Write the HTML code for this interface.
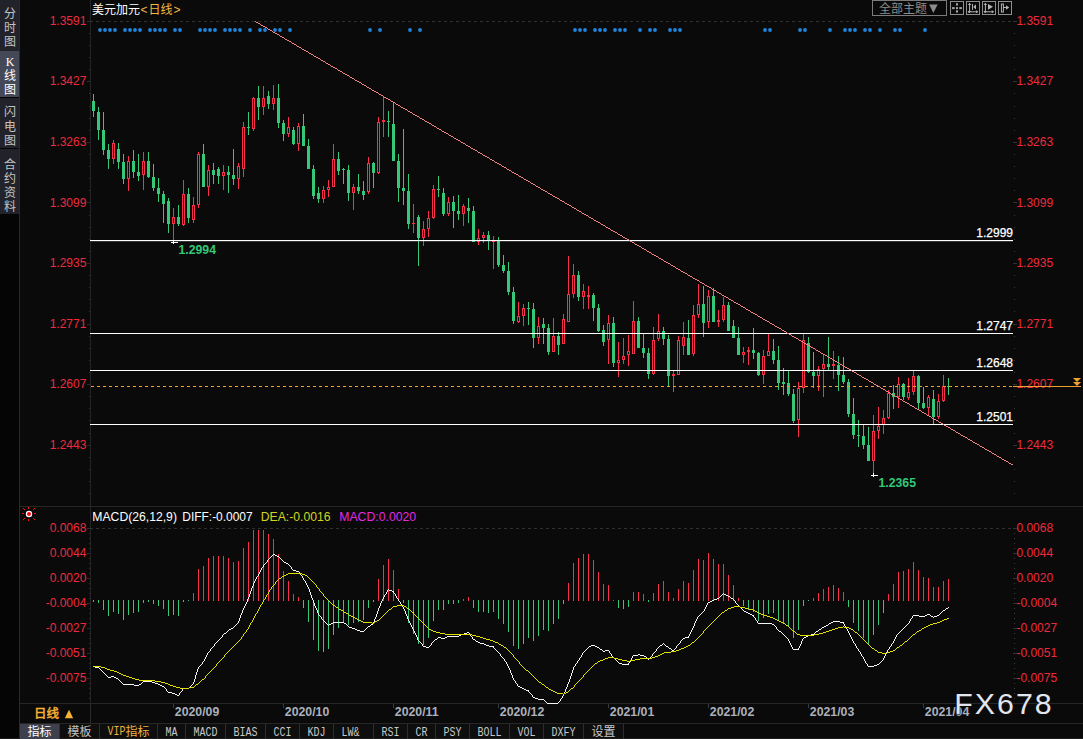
<!DOCTYPE html>
<html><head><meta charset="utf-8"><title>USDCAD</title>
<style>html,body{margin:0;padding:0;background:#0a0a0a;overflow:hidden}body{width:1083px;height:739px;font-family:"Liberation Sans",sans-serif}</style></head>
<body>
<svg width="1083" height="739" viewBox="0 0 1083 739" style="display:block">
<rect width="1083" height="739" fill="#0a0a0a"/>
<g shape-rendering="crispEdges">
<rect x="0" y="0" width="19" height="739" fill="#050505"/>
<rect x="0" y="0" width="19" height="51" fill="#22232a"/>
<rect x="0" y="51" width="19" height="46" fill="#454857"/>
<rect x="0" y="98" width="19" height="50" fill="#22232a"/>
<rect x="0" y="149" width="19" height="65" fill="#22232a"/>
<rect x="19" y="0" width="1" height="739" fill="#2a2a2a"/>
</g>
<text x="4" y="17.5" font-size="12" fill="#c4c4c4" font-family="'Liberation Sans', 'Noto Sans CJK SC', sans-serif">分</text>
<text x="4" y="31.5" font-size="12" fill="#c4c4c4" font-family="'Liberation Sans', 'Noto Sans CJK SC', sans-serif">时</text>
<text x="4" y="45.5" font-size="12" fill="#c4c4c4" font-family="'Liberation Sans', 'Noto Sans CJK SC', sans-serif">图</text>
<text x="10" y="65.8" font-size="12" fill="#fff" text-anchor="middle" font-weight="normal" font-family="'Liberation Serif', sans-serif" >K</text>
<text x="4" y="80" font-size="12" fill="#fff" font-family="'Liberation Sans', 'Noto Sans CJK SC', sans-serif">线</text>
<text x="4" y="94.2" font-size="12" fill="#fff" font-family="'Liberation Sans', 'Noto Sans CJK SC', sans-serif">图</text>
<text x="4" y="116.3" font-size="12" fill="#c4c4c4" font-family="'Liberation Sans', 'Noto Sans CJK SC', sans-serif">闪</text>
<text x="4" y="130.7" font-size="12" fill="#c4c4c4" font-family="'Liberation Sans', 'Noto Sans CJK SC', sans-serif">电</text>
<text x="4" y="144.8" font-size="12" fill="#c4c4c4" font-family="'Liberation Sans', 'Noto Sans CJK SC', sans-serif">图</text>
<text x="4" y="168.5" font-size="12" fill="#c4c4c4" font-family="'Liberation Sans', 'Noto Sans CJK SC', sans-serif">合</text>
<text x="4" y="182.5" font-size="12" fill="#c4c4c4" font-family="'Liberation Sans', 'Noto Sans CJK SC', sans-serif">约</text>
<text x="4" y="196.5" font-size="12" fill="#c4c4c4" font-family="'Liberation Sans', 'Noto Sans CJK SC', sans-serif">资</text>
<text x="4" y="210.5" font-size="12" fill="#c4c4c4" font-family="'Liberation Sans', 'Noto Sans CJK SC', sans-serif">料</text>
<g shape-rendering="crispEdges" fill="#262626">
<rect x="90" y="0" width="1" height="723" fill="#242424"/>
<rect x="20" y="506" width="1063" height="1"/>
<rect x="20" y="703" width="1063" height="1"/>
<rect x="20" y="723" width="1063" height="1"/>
<rect x="0" y="738" width="1083" height="1" fill="#1c1c1c"/>
</g>
<g shape-rendering="crispEdges" fill="#3a3a3a">
<rect x="87" y="21" width="3" height="1" fill="#2c2c2c"/>
<rect x="1013" y="21" width="4" height="1" fill="#323232"/>
<rect x="89" y="33" width="1" height="1" fill="#303030"/>
<rect x="1014" y="33" width="1" height="1"/>
<rect x="89" y="45" width="1" height="1" fill="#303030"/>
<rect x="1014" y="45" width="1" height="1"/>
<rect x="89" y="57" width="1" height="1" fill="#303030"/>
<rect x="1014" y="57" width="1" height="1"/>
<rect x="89" y="69" width="1" height="1" fill="#303030"/>
<rect x="1014" y="69" width="1" height="1"/>
<rect x="87" y="81" width="3" height="1" fill="#2c2c2c"/>
<rect x="1013" y="81" width="4" height="1" fill="#323232"/>
<rect x="89" y="93" width="1" height="1" fill="#303030"/>
<rect x="1014" y="93" width="1" height="1"/>
<rect x="89" y="106" width="1" height="1" fill="#303030"/>
<rect x="1014" y="106" width="1" height="1"/>
<rect x="89" y="118" width="1" height="1" fill="#303030"/>
<rect x="1014" y="118" width="1" height="1"/>
<rect x="89" y="130" width="1" height="1" fill="#303030"/>
<rect x="1014" y="130" width="1" height="1"/>
<rect x="87" y="142" width="3" height="1" fill="#2c2c2c"/>
<rect x="1013" y="142" width="4" height="1" fill="#323232"/>
<rect x="89" y="154" width="1" height="1" fill="#303030"/>
<rect x="1014" y="154" width="1" height="1"/>
<rect x="89" y="166" width="1" height="1" fill="#303030"/>
<rect x="1014" y="166" width="1" height="1"/>
<rect x="89" y="178" width="1" height="1" fill="#303030"/>
<rect x="1014" y="178" width="1" height="1"/>
<rect x="89" y="190" width="1" height="1" fill="#303030"/>
<rect x="1014" y="190" width="1" height="1"/>
<rect x="87" y="202" width="3" height="1" fill="#2c2c2c"/>
<rect x="1013" y="202" width="4" height="1" fill="#323232"/>
<rect x="89" y="215" width="1" height="1" fill="#303030"/>
<rect x="1014" y="215" width="1" height="1"/>
<rect x="89" y="227" width="1" height="1" fill="#303030"/>
<rect x="1014" y="227" width="1" height="1"/>
<rect x="89" y="239" width="1" height="1" fill="#303030"/>
<rect x="1014" y="239" width="1" height="1"/>
<rect x="89" y="251" width="1" height="1" fill="#303030"/>
<rect x="1014" y="251" width="1" height="1"/>
<rect x="87" y="263" width="3" height="1" fill="#2c2c2c"/>
<rect x="1013" y="263" width="4" height="1" fill="#323232"/>
<rect x="89" y="275" width="1" height="1" fill="#303030"/>
<rect x="1014" y="275" width="1" height="1"/>
<rect x="89" y="287" width="1" height="1" fill="#303030"/>
<rect x="1014" y="287" width="1" height="1"/>
<rect x="89" y="299" width="1" height="1" fill="#303030"/>
<rect x="1014" y="299" width="1" height="1"/>
<rect x="89" y="311" width="1" height="1" fill="#303030"/>
<rect x="1014" y="311" width="1" height="1"/>
<rect x="87" y="324" width="3" height="1" fill="#2c2c2c"/>
<rect x="1013" y="324" width="4" height="1" fill="#323232"/>
<rect x="89" y="336" width="1" height="1" fill="#303030"/>
<rect x="1014" y="336" width="1" height="1"/>
<rect x="89" y="348" width="1" height="1" fill="#303030"/>
<rect x="1014" y="348" width="1" height="1"/>
<rect x="89" y="360" width="1" height="1" fill="#303030"/>
<rect x="1014" y="360" width="1" height="1"/>
<rect x="89" y="372" width="1" height="1" fill="#303030"/>
<rect x="1014" y="372" width="1" height="1"/>
<rect x="87" y="384" width="3" height="1" fill="#2c2c2c"/>
<rect x="1013" y="384" width="4" height="1" fill="#323232"/>
<rect x="89" y="396" width="1" height="1" fill="#303030"/>
<rect x="1014" y="396" width="1" height="1"/>
<rect x="89" y="408" width="1" height="1" fill="#303030"/>
<rect x="1014" y="408" width="1" height="1"/>
<rect x="89" y="420" width="1" height="1" fill="#303030"/>
<rect x="1014" y="420" width="1" height="1"/>
<rect x="89" y="433" width="1" height="1" fill="#303030"/>
<rect x="1014" y="433" width="1" height="1"/>
<rect x="87" y="445" width="3" height="1" fill="#2c2c2c"/>
<rect x="1013" y="445" width="4" height="1" fill="#323232"/>
<rect x="89" y="457" width="1" height="1" fill="#303030"/>
<rect x="1014" y="457" width="1" height="1"/>
<rect x="89" y="469" width="1" height="1" fill="#303030"/>
<rect x="1014" y="469" width="1" height="1"/>
<rect x="89" y="481" width="1" height="1" fill="#303030"/>
<rect x="1014" y="481" width="1" height="1"/>
<rect x="89" y="493" width="1" height="1" fill="#303030"/>
<rect x="1014" y="493" width="1" height="1"/>
</g>
<text x="86.4" y="24.9" font-size="12" fill="#ee2a3c" text-anchor="end" font-weight="normal" font-family="'Liberation Sans', sans-serif" >1.3591</text>
<text x="1016.4" y="24.9" font-size="12" fill="#ee2a3c" text-anchor="start" font-weight="normal" font-family="'Liberation Sans', sans-serif" >1.3591</text>
<text x="86.4" y="85.4" font-size="12" fill="#ee2a3c" text-anchor="end" font-weight="normal" font-family="'Liberation Sans', sans-serif" >1.3427</text>
<text x="1016.4" y="85.4" font-size="12" fill="#ee2a3c" text-anchor="start" font-weight="normal" font-family="'Liberation Sans', sans-serif" >1.3427</text>
<text x="86.4" y="146.0" font-size="12" fill="#ee2a3c" text-anchor="end" font-weight="normal" font-family="'Liberation Sans', sans-serif" >1.3263</text>
<text x="1016.4" y="146.0" font-size="12" fill="#ee2a3c" text-anchor="start" font-weight="normal" font-family="'Liberation Sans', sans-serif" >1.3263</text>
<text x="86.4" y="206.5" font-size="12" fill="#ee2a3c" text-anchor="end" font-weight="normal" font-family="'Liberation Sans', sans-serif" >1.3099</text>
<text x="1016.4" y="206.5" font-size="12" fill="#ee2a3c" text-anchor="start" font-weight="normal" font-family="'Liberation Sans', sans-serif" >1.3099</text>
<text x="86.4" y="267.1" font-size="12" fill="#ee2a3c" text-anchor="end" font-weight="normal" font-family="'Liberation Sans', sans-serif" >1.2935</text>
<text x="1016.4" y="267.1" font-size="12" fill="#ee2a3c" text-anchor="start" font-weight="normal" font-family="'Liberation Sans', sans-serif" >1.2935</text>
<text x="86.4" y="327.7" font-size="12" fill="#ee2a3c" text-anchor="end" font-weight="normal" font-family="'Liberation Sans', sans-serif" >1.2771</text>
<text x="1016.4" y="327.7" font-size="12" fill="#ee2a3c" text-anchor="start" font-weight="normal" font-family="'Liberation Sans', sans-serif" >1.2771</text>
<text x="86.4" y="388.2" font-size="12" fill="#ee2a3c" text-anchor="end" font-weight="normal" font-family="'Liberation Sans', sans-serif" >1.2607</text>
<text x="1016.4" y="388.2" font-size="12" fill="#ee2a3c" text-anchor="start" font-weight="normal" font-family="'Liberation Sans', sans-serif" >1.2607</text>
<text x="86.4" y="448.8" font-size="12" fill="#ee2a3c" text-anchor="end" font-weight="normal" font-family="'Liberation Sans', sans-serif" >1.2443</text>
<text x="1016.4" y="448.8" font-size="12" fill="#ee2a3c" text-anchor="start" font-weight="normal" font-family="'Liberation Sans', sans-serif" >1.2443</text>
<path d="M90 21.5H1013" stroke="#303030" stroke-width="1" stroke-dasharray="3 3" shape-rendering="crispEdges"/>
<text x="92" y="14" font-size="12" fill="#ffffff" text-anchor="start" font-family="'Liberation Sans', 'Noto Sans CJK SC', sans-serif">美元加元</text>
<text x="140.5" y="14" font-size="12" fill="#f4b840" text-anchor="start" font-weight="normal" font-family="'Liberation Sans', sans-serif" >&lt;</text>
<text x="148.5" y="14" font-size="12" fill="#f4b840" text-anchor="start" font-family="'Liberation Sans', 'Noto Sans CJK SC', sans-serif">日线</text>
<text x="173.5" y="14" font-size="12" fill="#f4b840" text-anchor="start" font-weight="normal" font-family="'Liberation Sans', sans-serif" >&gt;</text>
<g shape-rendering="crispEdges" fill="none">
<rect x="872.5" y="0.5" width="74" height="15" stroke="#7c7c7c"/>
<rect x="950.5" y="1.5" width="13" height="13" stroke="#8e8e8e"/>
<rect x="966.5" y="1.5" width="13" height="13" stroke="#8e8e8e"/>
<rect x="982.5" y="1.5" width="13" height="13" stroke="#8e8e8e"/>
<rect x="998.5" y="1.5" width="13" height="13" stroke="#8e8e8e"/>
</g>
<text x="879" y="12.7" font-size="12" fill="#8c8c8c" text-anchor="start" font-family="'Liberation Sans', 'Noto Sans CJK SC', sans-serif">全部主题</text>
<path d="M929.2 4.5h8.4l-4.2 8.4z" fill="#8c8c8c"/>
<g fill="#a4a4a4">
<rect x="956" y="3.2" width="2" height="2.3"/>
<rect x="956" y="7.1" width="2" height="2"/>
<rect x="956" y="10.3" width="2" height="2.3"/>
<rect x="952.1" y="7.1" width="2.6" height="2"/>
<rect x="959.3" y="7.1" width="2.6" height="2"/>
</g>
<g stroke="#b4b4b4" stroke-width="1" fill="#b4b4b4">
<path d="M969.6 3.6v8.4M968.4 11.8H977.6" fill="none"/>
<path d="M969.6 2.8l-1.7 2.3h3.4z M969.6 12.9l-1.5-1.9h3z M978.3 11.8l-2.3-1.5v3z M967.6 11.8l1.9-1.4v2.8z" stroke="none"/>
<path d="M972.5 4v5.8" fill="none"/><path d="M976 4.2v5.4l-2.7-2.7z" stroke="none"/>
</g>
<g stroke="#b4b4b4" stroke-width="1" fill="#b4b4b4">
<path d="M985.4 3.6v8.4M984.3 11.8H993.4" fill="none"/>
<path d="M985.4 2.8l-1.7 2.3h3.4z M985.4 12.9l-1.5-1.9h3z M994.1 11.8l-2.3-1.5v3z M983.5 11.8l1.9-1.4v2.8z" stroke="none"/>
<path d="M988 3.9v5.8l5-2.9z" stroke="none"/>
</g>
<g stroke="#b4b4b4" stroke-width="1" fill="none">
<rect x="1001.4" y="4" width="2" height="8"/><path d="M1003 7.5h4"/><path d="M1009.2 7.5l-3.2-2.2v4.4z" fill="#b4b4b4" stroke="none"/>
</g>
<g fill="#1f86e0">
<circle cx="100" cy="30" r="1.9"/>
<circle cx="105" cy="30" r="1.9"/>
<circle cx="110" cy="30" r="1.9"/>
<circle cx="115" cy="30" r="1.9"/>
<circle cx="125" cy="30" r="1.9"/>
<circle cx="130" cy="30" r="1.9"/>
<circle cx="135" cy="30" r="1.9"/>
<circle cx="140" cy="30" r="1.9"/>
<circle cx="150" cy="30" r="1.9"/>
<circle cx="155" cy="30" r="1.9"/>
<circle cx="160" cy="30" r="1.9"/>
<circle cx="165" cy="30" r="1.9"/>
<circle cx="175" cy="30" r="1.9"/>
<circle cx="180" cy="30" r="1.9"/>
<circle cx="200" cy="30" r="1.9"/>
<circle cx="205" cy="30" r="1.9"/>
<circle cx="210" cy="30" r="1.9"/>
<circle cx="215" cy="30" r="1.9"/>
<circle cx="225" cy="30" r="1.9"/>
<circle cx="230" cy="30" r="1.9"/>
<circle cx="235" cy="30" r="1.9"/>
<circle cx="240" cy="30" r="1.9"/>
<circle cx="250" cy="30" r="1.9"/>
<circle cx="260" cy="30" r="1.9"/>
<circle cx="265" cy="30" r="1.9"/>
<circle cx="275" cy="30" r="1.9"/>
<circle cx="280" cy="30" r="1.9"/>
<circle cx="290" cy="30" r="1.9"/>
<circle cx="370" cy="30" r="1.9"/>
<circle cx="380" cy="30" r="1.9"/>
<circle cx="410" cy="30" r="1.9"/>
<circle cx="420" cy="30" r="1.9"/>
<circle cx="575" cy="30" r="1.9"/>
<circle cx="580" cy="30" r="1.9"/>
<circle cx="585" cy="30" r="1.9"/>
<circle cx="595" cy="30" r="1.9"/>
<circle cx="600" cy="30" r="1.9"/>
<circle cx="605" cy="30" r="1.9"/>
<circle cx="615" cy="30" r="1.9"/>
<circle cx="620" cy="30" r="1.9"/>
<circle cx="625" cy="30" r="1.9"/>
<circle cx="640" cy="30" r="1.9"/>
<circle cx="650" cy="30" r="1.9"/>
<circle cx="655" cy="30" r="1.9"/>
<circle cx="670" cy="30" r="1.9"/>
<circle cx="675" cy="30" r="1.9"/>
<circle cx="680" cy="30" r="1.9"/>
<circle cx="765" cy="30" r="1.9"/>
<circle cx="770" cy="30" r="1.9"/>
<circle cx="800" cy="30" r="1.9"/>
<circle cx="805" cy="30" r="1.9"/>
<circle cx="830" cy="30" r="1.9"/>
<circle cx="845" cy="30" r="1.9"/>
<circle cx="850" cy="30" r="1.9"/>
<circle cx="855" cy="30" r="1.9"/>
<circle cx="865" cy="30" r="1.9"/>
<circle cx="870" cy="30" r="1.9"/>
<circle cx="880" cy="30" r="1.9"/>
<circle cx="895" cy="30" r="1.9"/>
<circle cx="900" cy="30" r="1.9"/>
<circle cx="925" cy="30" r="1.9"/>
</g>
<g shape-rendering="crispEdges">
<rect x="93" y="94" width="1" height="23" fill="#36c878"/>
<rect x="92" y="101" width="3" height="10" fill="#36c878"/>
<rect x="98" y="107" width="1" height="33" fill="#36c878"/>
<rect x="97" y="112" width="3" height="18" fill="#36c878"/>
<rect x="103" y="112" width="1" height="43" fill="#36c878"/>
<rect x="102" y="130" width="3" height="20" fill="#36c878"/>
<rect x="108" y="144" width="1" height="25" fill="#36c878"/>
<rect x="107" y="150" width="3" height="9" fill="#36c878"/>
<rect x="113" y="140" width="1" height="3" fill="#f8304c"/>
<rect x="113" y="159" width="1" height="5" fill="#f8304c"/>
<rect x="112" y="143" width="3" height="16" fill="#f8304c"/>
<rect x="113" y="144" width="1" height="14" fill="#0a0a0a"/>
<rect x="118" y="143" width="1" height="26" fill="#36c878"/>
<rect x="117" y="149" width="3" height="13" fill="#36c878"/>
<rect x="123" y="154" width="1" height="30" fill="#36c878"/>
<rect x="122" y="162" width="3" height="17" fill="#36c878"/>
<rect x="128" y="156" width="1" height="5" fill="#f8304c"/>
<rect x="128" y="179" width="1" height="12" fill="#f8304c"/>
<rect x="127" y="161" width="3" height="18" fill="#f8304c"/>
<rect x="128" y="162" width="1" height="16" fill="#0a0a0a"/>
<rect x="133" y="150" width="1" height="28" fill="#36c878"/>
<rect x="132" y="161" width="3" height="11" fill="#36c878"/>
<rect x="138" y="154" width="1" height="27" fill="#36c878"/>
<rect x="137" y="172" width="3" height="4" fill="#36c878"/>
<rect x="143" y="152" width="1" height="9" fill="#f8304c"/>
<rect x="143" y="175" width="1" height="15" fill="#f8304c"/>
<rect x="142" y="161" width="3" height="14" fill="#f8304c"/>
<rect x="143" y="162" width="1" height="12" fill="#0a0a0a"/>
<rect x="148" y="152" width="1" height="26" fill="#36c878"/>
<rect x="147" y="161" width="3" height="16" fill="#36c878"/>
<rect x="153" y="164" width="1" height="27" fill="#36c878"/>
<rect x="152" y="177" width="3" height="11" fill="#36c878"/>
<rect x="158" y="178" width="1" height="24" fill="#36c878"/>
<rect x="157" y="188" width="3" height="6" fill="#36c878"/>
<rect x="163" y="191" width="1" height="32" fill="#36c878"/>
<rect x="162" y="194" width="3" height="10" fill="#36c878"/>
<rect x="168" y="198" width="1" height="35" fill="#36c878"/>
<rect x="167" y="201" width="3" height="23" fill="#36c878"/>
<rect x="173" y="208" width="1" height="9" fill="#f8304c"/>
<rect x="173" y="224" width="1" height="17" fill="#f8304c"/>
<rect x="172" y="217" width="3" height="7" fill="#f8304c"/>
<rect x="173" y="218" width="1" height="5" fill="#0a0a0a"/>
<rect x="178" y="205" width="1" height="21" fill="#36c878"/>
<rect x="177" y="217" width="3" height="7" fill="#36c878"/>
<rect x="183" y="180" width="1" height="14" fill="#f8304c"/>
<rect x="183" y="225" width="1" height="1" fill="#f8304c"/>
<rect x="182" y="194" width="3" height="31" fill="#f8304c"/>
<rect x="183" y="195" width="1" height="29" fill="#0a0a0a"/>
<rect x="188" y="188" width="1" height="35" fill="#36c878"/>
<rect x="187" y="194" width="3" height="24" fill="#36c878"/>
<rect x="193" y="197" width="1" height="8" fill="#f8304c"/>
<rect x="193" y="220" width="1" height="3" fill="#f8304c"/>
<rect x="192" y="205" width="3" height="15" fill="#f8304c"/>
<rect x="193" y="206" width="1" height="13" fill="#0a0a0a"/>
<rect x="198" y="152" width="1" height="2" fill="#f8304c"/>
<rect x="198" y="205" width="1" height="3" fill="#f8304c"/>
<rect x="197" y="154" width="3" height="51" fill="#f8304c"/>
<rect x="198" y="155" width="1" height="49" fill="#0a0a0a"/>
<rect x="203" y="144" width="1" height="43" fill="#36c878"/>
<rect x="202" y="154" width="3" height="33" fill="#36c878"/>
<rect x="208" y="165" width="1" height="5" fill="#f8304c"/>
<rect x="208" y="187" width="1" height="9" fill="#f8304c"/>
<rect x="207" y="170" width="3" height="17" fill="#f8304c"/>
<rect x="208" y="171" width="1" height="15" fill="#0a0a0a"/>
<rect x="213" y="163" width="1" height="21" fill="#36c878"/>
<rect x="212" y="170" width="3" height="5" fill="#36c878"/>
<rect x="218" y="167" width="1" height="17" fill="#36c878"/>
<rect x="217" y="169" width="3" height="7" fill="#36c878"/>
<rect x="223" y="165" width="1" height="7" fill="#f8304c"/>
<rect x="223" y="176" width="1" height="14" fill="#f8304c"/>
<rect x="222" y="172" width="3" height="4" fill="#f8304c"/>
<rect x="223" y="173" width="1" height="2" fill="#0a0a0a"/>
<rect x="228" y="166" width="1" height="27" fill="#36c878"/>
<rect x="227" y="172" width="3" height="3" fill="#36c878"/>
<rect x="233" y="149" width="1" height="36" fill="#36c878"/>
<rect x="232" y="175" width="3" height="4" fill="#36c878"/>
<rect x="238" y="163" width="1" height="3" fill="#f8304c"/>
<rect x="238" y="179" width="1" height="10" fill="#f8304c"/>
<rect x="237" y="166" width="3" height="13" fill="#f8304c"/>
<rect x="238" y="167" width="1" height="11" fill="#0a0a0a"/>
<rect x="243" y="122" width="1" height="5" fill="#f8304c"/>
<rect x="243" y="169" width="1" height="8" fill="#f8304c"/>
<rect x="242" y="127" width="3" height="42" fill="#f8304c"/>
<rect x="243" y="128" width="1" height="40" fill="#0a0a0a"/>
<rect x="248" y="112" width="1" height="23" fill="#36c878"/>
<rect x="247" y="127" width="3" height="1" fill="#36c878"/>
<rect x="253" y="97" width="1" height="1" fill="#f8304c"/>
<rect x="253" y="129" width="1" height="2" fill="#f8304c"/>
<rect x="252" y="98" width="3" height="31" fill="#f8304c"/>
<rect x="253" y="99" width="1" height="29" fill="#0a0a0a"/>
<rect x="258" y="86" width="1" height="34" fill="#36c878"/>
<rect x="257" y="98" width="3" height="9" fill="#36c878"/>
<rect x="263" y="86" width="1" height="12" fill="#f8304c"/>
<rect x="263" y="107" width="1" height="8" fill="#f8304c"/>
<rect x="262" y="98" width="3" height="9" fill="#f8304c"/>
<rect x="263" y="99" width="1" height="7" fill="#0a0a0a"/>
<rect x="268" y="91" width="1" height="18" fill="#36c878"/>
<rect x="267" y="96" width="3" height="8" fill="#36c878"/>
<rect x="273" y="85" width="1" height="13" fill="#f8304c"/>
<rect x="273" y="104" width="1" height="6" fill="#f8304c"/>
<rect x="272" y="98" width="3" height="6" fill="#f8304c"/>
<rect x="273" y="99" width="1" height="4" fill="#0a0a0a"/>
<rect x="278" y="84" width="1" height="44" fill="#36c878"/>
<rect x="277" y="98" width="3" height="25" fill="#36c878"/>
<rect x="283" y="120" width="1" height="21" fill="#36c878"/>
<rect x="282" y="123" width="3" height="11" fill="#36c878"/>
<rect x="288" y="117" width="1" height="10" fill="#f8304c"/>
<rect x="288" y="134" width="1" height="3" fill="#f8304c"/>
<rect x="287" y="127" width="3" height="7" fill="#f8304c"/>
<rect x="288" y="128" width="1" height="5" fill="#0a0a0a"/>
<rect x="293" y="127" width="1" height="18" fill="#36c878"/>
<rect x="292" y="130" width="3" height="14" fill="#36c878"/>
<rect x="298" y="123" width="1" height="3" fill="#f8304c"/>
<rect x="298" y="144" width="1" height="7" fill="#f8304c"/>
<rect x="297" y="126" width="3" height="18" fill="#f8304c"/>
<rect x="298" y="127" width="1" height="16" fill="#0a0a0a"/>
<rect x="303" y="114" width="1" height="32" fill="#36c878"/>
<rect x="302" y="126" width="3" height="20" fill="#36c878"/>
<rect x="308" y="139" width="1" height="30" fill="#36c878"/>
<rect x="307" y="146" width="3" height="23" fill="#36c878"/>
<rect x="313" y="165" width="1" height="34" fill="#36c878"/>
<rect x="312" y="169" width="3" height="27" fill="#36c878"/>
<rect x="318" y="187" width="1" height="16" fill="#36c878"/>
<rect x="317" y="193" width="3" height="6" fill="#36c878"/>
<rect x="323" y="186" width="1" height="4" fill="#f8304c"/>
<rect x="323" y="199" width="1" height="4" fill="#f8304c"/>
<rect x="322" y="190" width="3" height="9" fill="#f8304c"/>
<rect x="323" y="191" width="1" height="7" fill="#0a0a0a"/>
<rect x="328" y="180" width="1" height="7" fill="#f8304c"/>
<rect x="328" y="190" width="1" height="7" fill="#f8304c"/>
<rect x="327" y="187" width="3" height="3" fill="#f8304c"/>
<rect x="328" y="188" width="1" height="1" fill="#0a0a0a"/>
<rect x="333" y="144" width="1" height="15" fill="#f8304c"/>
<rect x="332" y="159" width="3" height="28" fill="#f8304c"/>
<rect x="333" y="160" width="1" height="26" fill="#0a0a0a"/>
<rect x="338" y="152" width="1" height="23" fill="#36c878"/>
<rect x="337" y="159" width="3" height="12" fill="#36c878"/>
<rect x="343" y="168" width="1" height="16" fill="#36c878"/>
<rect x="342" y="169" width="3" height="1" fill="#36c878"/>
<rect x="348" y="165" width="1" height="36" fill="#36c878"/>
<rect x="347" y="170" width="3" height="23" fill="#36c878"/>
<rect x="353" y="184" width="1" height="3" fill="#f8304c"/>
<rect x="353" y="193" width="1" height="17" fill="#f8304c"/>
<rect x="352" y="187" width="3" height="6" fill="#f8304c"/>
<rect x="353" y="188" width="1" height="4" fill="#0a0a0a"/>
<rect x="358" y="174" width="1" height="20" fill="#36c878"/>
<rect x="357" y="187" width="3" height="4" fill="#36c878"/>
<rect x="363" y="181" width="1" height="19" fill="#36c878"/>
<rect x="362" y="191" width="3" height="4" fill="#36c878"/>
<rect x="368" y="157" width="1" height="6" fill="#f8304c"/>
<rect x="368" y="192" width="1" height="2" fill="#f8304c"/>
<rect x="367" y="163" width="3" height="29" fill="#f8304c"/>
<rect x="368" y="164" width="1" height="27" fill="#0a0a0a"/>
<rect x="373" y="162" width="1" height="26" fill="#36c878"/>
<rect x="372" y="163" width="3" height="10" fill="#36c878"/>
<rect x="378" y="117" width="1" height="5" fill="#f8304c"/>
<rect x="378" y="173" width="1" height="1" fill="#f8304c"/>
<rect x="377" y="122" width="3" height="51" fill="#f8304c"/>
<rect x="378" y="123" width="1" height="49" fill="#0a0a0a"/>
<rect x="383" y="96" width="1" height="24" fill="#f8304c"/>
<rect x="383" y="122" width="1" height="15" fill="#f8304c"/>
<rect x="382" y="120" width="3" height="2" fill="#f8304c"/>
<rect x="388" y="111" width="1" height="26" fill="#36c878"/>
<rect x="387" y="121" width="3" height="1" fill="#36c878"/>
<rect x="393" y="103" width="1" height="58" fill="#36c878"/>
<rect x="392" y="124" width="3" height="37" fill="#36c878"/>
<rect x="398" y="154" width="1" height="48" fill="#36c878"/>
<rect x="397" y="161" width="3" height="27" fill="#36c878"/>
<rect x="403" y="129" width="1" height="76" fill="#36c878"/>
<rect x="402" y="188" width="3" height="3" fill="#36c878"/>
<rect x="408" y="174" width="1" height="55" fill="#36c878"/>
<rect x="407" y="191" width="3" height="33" fill="#36c878"/>
<rect x="413" y="204" width="1" height="19" fill="#f8304c"/>
<rect x="413" y="224" width="1" height="9" fill="#f8304c"/>
<rect x="412" y="223" width="3" height="1" fill="#f8304c"/>
<rect x="418" y="215" width="1" height="51" fill="#36c878"/>
<rect x="417" y="217" width="3" height="21" fill="#36c878"/>
<rect x="423" y="221" width="1" height="8" fill="#f8304c"/>
<rect x="423" y="238" width="1" height="8" fill="#f8304c"/>
<rect x="422" y="229" width="3" height="9" fill="#f8304c"/>
<rect x="423" y="230" width="1" height="7" fill="#0a0a0a"/>
<rect x="428" y="211" width="1" height="7" fill="#f8304c"/>
<rect x="428" y="229" width="1" height="8" fill="#f8304c"/>
<rect x="427" y="218" width="3" height="11" fill="#f8304c"/>
<rect x="428" y="219" width="1" height="9" fill="#0a0a0a"/>
<rect x="433" y="185" width="1" height="4" fill="#f8304c"/>
<rect x="433" y="218" width="1" height="1" fill="#f8304c"/>
<rect x="432" y="189" width="3" height="29" fill="#f8304c"/>
<rect x="433" y="190" width="1" height="27" fill="#0a0a0a"/>
<rect x="438" y="176" width="1" height="21" fill="#36c878"/>
<rect x="437" y="189" width="3" height="1" fill="#36c878"/>
<rect x="443" y="188" width="1" height="28" fill="#36c878"/>
<rect x="442" y="193" width="3" height="21" fill="#36c878"/>
<rect x="448" y="197" width="1" height="5" fill="#f8304c"/>
<rect x="448" y="214" width="1" height="2" fill="#f8304c"/>
<rect x="447" y="202" width="3" height="12" fill="#f8304c"/>
<rect x="448" y="203" width="1" height="10" fill="#0a0a0a"/>
<rect x="453" y="196" width="1" height="32" fill="#36c878"/>
<rect x="452" y="202" width="3" height="9" fill="#36c878"/>
<rect x="458" y="195" width="1" height="25" fill="#36c878"/>
<rect x="457" y="211" width="3" height="3" fill="#36c878"/>
<rect x="463" y="204" width="1" height="2" fill="#f8304c"/>
<rect x="463" y="214" width="1" height="12" fill="#f8304c"/>
<rect x="462" y="206" width="3" height="8" fill="#f8304c"/>
<rect x="463" y="207" width="1" height="6" fill="#0a0a0a"/>
<rect x="468" y="198" width="1" height="25" fill="#36c878"/>
<rect x="467" y="208" width="3" height="3" fill="#36c878"/>
<rect x="473" y="206" width="1" height="36" fill="#36c878"/>
<rect x="472" y="211" width="3" height="31" fill="#36c878"/>
<rect x="478" y="229" width="1" height="9" fill="#f8304c"/>
<rect x="478" y="242" width="1" height="3" fill="#f8304c"/>
<rect x="477" y="238" width="3" height="4" fill="#f8304c"/>
<rect x="478" y="239" width="1" height="2" fill="#0a0a0a"/>
<rect x="483" y="232" width="1" height="3" fill="#f8304c"/>
<rect x="483" y="238" width="1" height="5" fill="#f8304c"/>
<rect x="482" y="235" width="3" height="3" fill="#f8304c"/>
<rect x="483" y="236" width="1" height="1" fill="#0a0a0a"/>
<rect x="488" y="231" width="1" height="19" fill="#36c878"/>
<rect x="487" y="235" width="3" height="5" fill="#36c878"/>
<rect x="493" y="236" width="1" height="4" fill="#f8304c"/>
<rect x="493" y="242" width="1" height="27" fill="#f8304c"/>
<rect x="492" y="240" width="3" height="2" fill="#f8304c"/>
<rect x="498" y="237" width="1" height="30" fill="#36c878"/>
<rect x="497" y="240" width="3" height="25" fill="#36c878"/>
<rect x="503" y="255" width="1" height="18" fill="#36c878"/>
<rect x="502" y="265" width="3" height="6" fill="#36c878"/>
<rect x="508" y="262" width="1" height="33" fill="#36c878"/>
<rect x="507" y="271" width="3" height="21" fill="#36c878"/>
<rect x="513" y="287" width="1" height="37" fill="#36c878"/>
<rect x="512" y="292" width="3" height="29" fill="#36c878"/>
<rect x="518" y="302" width="1" height="14" fill="#f8304c"/>
<rect x="518" y="322" width="1" height="1" fill="#f8304c"/>
<rect x="517" y="316" width="3" height="6" fill="#f8304c"/>
<rect x="518" y="317" width="1" height="4" fill="#0a0a0a"/>
<rect x="523" y="304" width="1" height="4" fill="#f8304c"/>
<rect x="523" y="316" width="1" height="10" fill="#f8304c"/>
<rect x="522" y="308" width="3" height="8" fill="#f8304c"/>
<rect x="523" y="309" width="1" height="6" fill="#0a0a0a"/>
<rect x="528" y="302" width="1" height="23" fill="#36c878"/>
<rect x="527" y="308" width="3" height="1" fill="#36c878"/>
<rect x="533" y="303" width="1" height="45" fill="#36c878"/>
<rect x="532" y="309" width="3" height="29" fill="#36c878"/>
<rect x="538" y="317" width="1" height="9" fill="#f8304c"/>
<rect x="538" y="338" width="1" height="6" fill="#f8304c"/>
<rect x="537" y="326" width="3" height="12" fill="#f8304c"/>
<rect x="538" y="327" width="1" height="10" fill="#0a0a0a"/>
<rect x="543" y="318" width="1" height="26" fill="#36c878"/>
<rect x="542" y="324" width="3" height="4" fill="#36c878"/>
<rect x="548" y="324" width="1" height="31" fill="#36c878"/>
<rect x="547" y="328" width="3" height="24" fill="#36c878"/>
<rect x="553" y="318" width="1" height="18" fill="#f8304c"/>
<rect x="552" y="336" width="3" height="16" fill="#f8304c"/>
<rect x="553" y="337" width="1" height="14" fill="#0a0a0a"/>
<rect x="558" y="332" width="1" height="23" fill="#36c878"/>
<rect x="557" y="336" width="3" height="9" fill="#36c878"/>
<rect x="563" y="314" width="1" height="5" fill="#f8304c"/>
<rect x="562" y="319" width="3" height="25" fill="#f8304c"/>
<rect x="563" y="320" width="1" height="23" fill="#0a0a0a"/>
<rect x="568" y="256" width="1" height="38" fill="#f8304c"/>
<rect x="567" y="294" width="3" height="28" fill="#f8304c"/>
<rect x="568" y="295" width="1" height="26" fill="#0a0a0a"/>
<rect x="573" y="264" width="1" height="11" fill="#f8304c"/>
<rect x="573" y="294" width="1" height="4" fill="#f8304c"/>
<rect x="572" y="275" width="3" height="19" fill="#f8304c"/>
<rect x="573" y="276" width="1" height="17" fill="#0a0a0a"/>
<rect x="578" y="271" width="1" height="30" fill="#36c878"/>
<rect x="577" y="275" width="3" height="22" fill="#36c878"/>
<rect x="583" y="284" width="1" height="7" fill="#f8304c"/>
<rect x="583" y="297" width="1" height="12" fill="#f8304c"/>
<rect x="582" y="291" width="3" height="6" fill="#f8304c"/>
<rect x="583" y="292" width="1" height="4" fill="#0a0a0a"/>
<rect x="588" y="286" width="1" height="9" fill="#f8304c"/>
<rect x="588" y="297" width="1" height="12" fill="#f8304c"/>
<rect x="587" y="295" width="3" height="2" fill="#f8304c"/>
<rect x="593" y="293" width="1" height="28" fill="#36c878"/>
<rect x="592" y="295" width="3" height="13" fill="#36c878"/>
<rect x="598" y="304" width="1" height="28" fill="#36c878"/>
<rect x="597" y="308" width="3" height="23" fill="#36c878"/>
<rect x="603" y="325" width="1" height="21" fill="#36c878"/>
<rect x="602" y="330" width="3" height="12" fill="#36c878"/>
<rect x="608" y="315" width="1" height="8" fill="#f8304c"/>
<rect x="608" y="340" width="1" height="24" fill="#f8304c"/>
<rect x="607" y="323" width="3" height="17" fill="#f8304c"/>
<rect x="608" y="324" width="1" height="15" fill="#0a0a0a"/>
<rect x="613" y="317" width="1" height="50" fill="#36c878"/>
<rect x="612" y="323" width="3" height="40" fill="#36c878"/>
<rect x="618" y="342" width="1" height="18" fill="#f8304c"/>
<rect x="618" y="363" width="1" height="14" fill="#f8304c"/>
<rect x="617" y="360" width="3" height="3" fill="#f8304c"/>
<rect x="618" y="361" width="1" height="1" fill="#0a0a0a"/>
<rect x="623" y="338" width="1" height="18" fill="#f8304c"/>
<rect x="623" y="360" width="1" height="4" fill="#f8304c"/>
<rect x="622" y="356" width="3" height="4" fill="#f8304c"/>
<rect x="623" y="357" width="1" height="2" fill="#0a0a0a"/>
<rect x="628" y="335" width="1" height="16" fill="#f8304c"/>
<rect x="628" y="355" width="1" height="11" fill="#f8304c"/>
<rect x="627" y="351" width="3" height="4" fill="#f8304c"/>
<rect x="628" y="352" width="1" height="2" fill="#0a0a0a"/>
<rect x="633" y="301" width="1" height="20" fill="#f8304c"/>
<rect x="632" y="321" width="3" height="33" fill="#f8304c"/>
<rect x="633" y="322" width="1" height="31" fill="#0a0a0a"/>
<rect x="638" y="317" width="1" height="31" fill="#36c878"/>
<rect x="637" y="321" width="3" height="27" fill="#36c878"/>
<rect x="643" y="334" width="1" height="24" fill="#36c878"/>
<rect x="642" y="348" width="3" height="5" fill="#36c878"/>
<rect x="648" y="348" width="1" height="31" fill="#36c878"/>
<rect x="647" y="353" width="3" height="21" fill="#36c878"/>
<rect x="653" y="327" width="1" height="13" fill="#f8304c"/>
<rect x="653" y="374" width="1" height="1" fill="#f8304c"/>
<rect x="652" y="340" width="3" height="34" fill="#f8304c"/>
<rect x="653" y="341" width="1" height="32" fill="#0a0a0a"/>
<rect x="658" y="314" width="1" height="17" fill="#f8304c"/>
<rect x="658" y="339" width="1" height="2" fill="#f8304c"/>
<rect x="657" y="331" width="3" height="8" fill="#f8304c"/>
<rect x="658" y="332" width="1" height="6" fill="#0a0a0a"/>
<rect x="663" y="327" width="1" height="18" fill="#36c878"/>
<rect x="662" y="331" width="3" height="8" fill="#36c878"/>
<rect x="668" y="335" width="1" height="51" fill="#36c878"/>
<rect x="667" y="339" width="3" height="37" fill="#36c878"/>
<rect x="673" y="371" width="1" height="3" fill="#f8304c"/>
<rect x="673" y="376" width="1" height="16" fill="#f8304c"/>
<rect x="672" y="374" width="3" height="2" fill="#f8304c"/>
<rect x="678" y="336" width="1" height="4" fill="#f8304c"/>
<rect x="677" y="340" width="3" height="35" fill="#f8304c"/>
<rect x="678" y="341" width="1" height="33" fill="#0a0a0a"/>
<rect x="683" y="322" width="1" height="15" fill="#f8304c"/>
<rect x="683" y="346" width="1" height="9" fill="#f8304c"/>
<rect x="682" y="337" width="3" height="9" fill="#f8304c"/>
<rect x="683" y="338" width="1" height="7" fill="#0a0a0a"/>
<rect x="688" y="320" width="1" height="35" fill="#36c878"/>
<rect x="687" y="338" width="3" height="17" fill="#36c878"/>
<rect x="693" y="305" width="1" height="10" fill="#f8304c"/>
<rect x="693" y="354" width="1" height="2" fill="#f8304c"/>
<rect x="692" y="315" width="3" height="39" fill="#f8304c"/>
<rect x="693" y="316" width="1" height="37" fill="#0a0a0a"/>
<rect x="698" y="284" width="1" height="20" fill="#f8304c"/>
<rect x="698" y="315" width="1" height="3" fill="#f8304c"/>
<rect x="697" y="304" width="3" height="11" fill="#f8304c"/>
<rect x="698" y="305" width="1" height="9" fill="#0a0a0a"/>
<rect x="703" y="286" width="1" height="51" fill="#36c878"/>
<rect x="702" y="304" width="3" height="19" fill="#36c878"/>
<rect x="708" y="290" width="1" height="6" fill="#f8304c"/>
<rect x="708" y="322" width="1" height="6" fill="#f8304c"/>
<rect x="707" y="296" width="3" height="26" fill="#f8304c"/>
<rect x="708" y="297" width="1" height="24" fill="#0a0a0a"/>
<rect x="713" y="288" width="1" height="34" fill="#36c878"/>
<rect x="712" y="296" width="3" height="26" fill="#36c878"/>
<rect x="718" y="310" width="1" height="10" fill="#f8304c"/>
<rect x="718" y="322" width="1" height="5" fill="#f8304c"/>
<rect x="717" y="320" width="3" height="2" fill="#f8304c"/>
<rect x="723" y="297" width="1" height="8" fill="#f8304c"/>
<rect x="723" y="320" width="1" height="2" fill="#f8304c"/>
<rect x="722" y="305" width="3" height="15" fill="#f8304c"/>
<rect x="723" y="306" width="1" height="13" fill="#0a0a0a"/>
<rect x="728" y="302" width="1" height="29" fill="#36c878"/>
<rect x="727" y="305" width="3" height="26" fill="#36c878"/>
<rect x="733" y="320" width="1" height="18" fill="#36c878"/>
<rect x="732" y="326" width="3" height="12" fill="#36c878"/>
<rect x="738" y="327" width="1" height="28" fill="#36c878"/>
<rect x="737" y="338" width="3" height="17" fill="#36c878"/>
<rect x="743" y="347" width="1" height="5" fill="#f8304c"/>
<rect x="743" y="355" width="1" height="8" fill="#f8304c"/>
<rect x="742" y="352" width="3" height="3" fill="#f8304c"/>
<rect x="743" y="353" width="1" height="1" fill="#0a0a0a"/>
<rect x="748" y="347" width="1" height="3" fill="#f8304c"/>
<rect x="748" y="352" width="1" height="13" fill="#f8304c"/>
<rect x="747" y="350" width="3" height="2" fill="#f8304c"/>
<rect x="753" y="328" width="1" height="31" fill="#36c878"/>
<rect x="752" y="350" width="3" height="3" fill="#36c878"/>
<rect x="758" y="352" width="1" height="24" fill="#36c878"/>
<rect x="757" y="353" width="3" height="22" fill="#36c878"/>
<rect x="763" y="350" width="1" height="6" fill="#f8304c"/>
<rect x="763" y="375" width="1" height="9" fill="#f8304c"/>
<rect x="762" y="356" width="3" height="19" fill="#f8304c"/>
<rect x="763" y="357" width="1" height="17" fill="#0a0a0a"/>
<rect x="768" y="334" width="1" height="17" fill="#f8304c"/>
<rect x="767" y="351" width="3" height="5" fill="#f8304c"/>
<rect x="768" y="352" width="1" height="3" fill="#0a0a0a"/>
<rect x="773" y="339" width="1" height="25" fill="#36c878"/>
<rect x="772" y="351" width="3" height="9" fill="#36c878"/>
<rect x="778" y="346" width="1" height="44" fill="#36c878"/>
<rect x="777" y="360" width="3" height="23" fill="#36c878"/>
<rect x="783" y="368" width="1" height="27" fill="#36c878"/>
<rect x="782" y="382" width="3" height="2" fill="#36c878"/>
<rect x="788" y="371" width="1" height="25" fill="#36c878"/>
<rect x="787" y="383" width="3" height="11" fill="#36c878"/>
<rect x="793" y="389" width="1" height="34" fill="#36c878"/>
<rect x="792" y="394" width="3" height="27" fill="#36c878"/>
<rect x="798" y="382" width="1" height="6" fill="#f8304c"/>
<rect x="798" y="420" width="1" height="17" fill="#f8304c"/>
<rect x="797" y="388" width="3" height="32" fill="#f8304c"/>
<rect x="798" y="389" width="1" height="30" fill="#0a0a0a"/>
<rect x="803" y="334" width="1" height="6" fill="#f8304c"/>
<rect x="803" y="388" width="1" height="5" fill="#f8304c"/>
<rect x="802" y="340" width="3" height="48" fill="#f8304c"/>
<rect x="803" y="341" width="1" height="46" fill="#0a0a0a"/>
<rect x="808" y="337" width="1" height="36" fill="#36c878"/>
<rect x="807" y="343" width="3" height="29" fill="#36c878"/>
<rect x="813" y="352" width="1" height="36" fill="#36c878"/>
<rect x="812" y="372" width="3" height="4" fill="#36c878"/>
<rect x="818" y="366" width="1" height="3" fill="#f8304c"/>
<rect x="818" y="376" width="1" height="15" fill="#f8304c"/>
<rect x="817" y="369" width="3" height="7" fill="#f8304c"/>
<rect x="818" y="370" width="1" height="5" fill="#0a0a0a"/>
<rect x="823" y="354" width="1" height="10" fill="#f8304c"/>
<rect x="823" y="369" width="1" height="28" fill="#f8304c"/>
<rect x="822" y="364" width="3" height="5" fill="#f8304c"/>
<rect x="823" y="365" width="1" height="3" fill="#0a0a0a"/>
<rect x="828" y="337" width="1" height="33" fill="#36c878"/>
<rect x="827" y="364" width="3" height="3" fill="#36c878"/>
<rect x="833" y="351" width="1" height="13" fill="#f8304c"/>
<rect x="833" y="366" width="1" height="13" fill="#f8304c"/>
<rect x="832" y="364" width="3" height="2" fill="#f8304c"/>
<rect x="838" y="356" width="1" height="35" fill="#36c878"/>
<rect x="837" y="365" width="3" height="10" fill="#36c878"/>
<rect x="843" y="357" width="1" height="27" fill="#36c878"/>
<rect x="842" y="375" width="3" height="7" fill="#36c878"/>
<rect x="848" y="379" width="1" height="38" fill="#36c878"/>
<rect x="847" y="382" width="3" height="32" fill="#36c878"/>
<rect x="853" y="398" width="1" height="41" fill="#36c878"/>
<rect x="852" y="414" width="3" height="21" fill="#36c878"/>
<rect x="858" y="420" width="1" height="27" fill="#36c878"/>
<rect x="857" y="435" width="3" height="1" fill="#36c878"/>
<rect x="863" y="425" width="1" height="24" fill="#36c878"/>
<rect x="862" y="436" width="3" height="9" fill="#36c878"/>
<rect x="868" y="427" width="1" height="34" fill="#36c878"/>
<rect x="867" y="445" width="3" height="16" fill="#36c878"/>
<rect x="873" y="415" width="1" height="16" fill="#f8304c"/>
<rect x="873" y="461" width="1" height="12" fill="#f8304c"/>
<rect x="872" y="431" width="3" height="30" fill="#f8304c"/>
<rect x="873" y="432" width="1" height="28" fill="#0a0a0a"/>
<rect x="878" y="407" width="1" height="19" fill="#f8304c"/>
<rect x="878" y="431" width="1" height="8" fill="#f8304c"/>
<rect x="877" y="426" width="3" height="5" fill="#f8304c"/>
<rect x="878" y="427" width="1" height="3" fill="#0a0a0a"/>
<rect x="883" y="410" width="1" height="8" fill="#f8304c"/>
<rect x="883" y="425" width="1" height="9" fill="#f8304c"/>
<rect x="882" y="418" width="3" height="7" fill="#f8304c"/>
<rect x="883" y="419" width="1" height="5" fill="#0a0a0a"/>
<rect x="888" y="390" width="1" height="3" fill="#f8304c"/>
<rect x="888" y="418" width="1" height="1" fill="#f8304c"/>
<rect x="887" y="393" width="3" height="25" fill="#f8304c"/>
<rect x="888" y="394" width="1" height="23" fill="#0a0a0a"/>
<rect x="893" y="385" width="1" height="24" fill="#36c878"/>
<rect x="892" y="393" width="3" height="4" fill="#36c878"/>
<rect x="898" y="377" width="1" height="7" fill="#f8304c"/>
<rect x="898" y="397" width="1" height="11" fill="#f8304c"/>
<rect x="897" y="384" width="3" height="13" fill="#f8304c"/>
<rect x="898" y="385" width="1" height="11" fill="#0a0a0a"/>
<rect x="903" y="383" width="1" height="17" fill="#36c878"/>
<rect x="902" y="384" width="3" height="13" fill="#36c878"/>
<rect x="908" y="378" width="1" height="14" fill="#f8304c"/>
<rect x="908" y="398" width="1" height="2" fill="#f8304c"/>
<rect x="907" y="392" width="3" height="6" fill="#f8304c"/>
<rect x="908" y="393" width="1" height="4" fill="#0a0a0a"/>
<rect x="913" y="371" width="1" height="5" fill="#f8304c"/>
<rect x="913" y="392" width="1" height="3" fill="#f8304c"/>
<rect x="912" y="376" width="3" height="16" fill="#f8304c"/>
<rect x="913" y="377" width="1" height="14" fill="#0a0a0a"/>
<rect x="918" y="375" width="1" height="34" fill="#36c878"/>
<rect x="917" y="376" width="3" height="27" fill="#36c878"/>
<rect x="923" y="387" width="1" height="22" fill="#36c878"/>
<rect x="922" y="403" width="3" height="5" fill="#36c878"/>
<rect x="928" y="395" width="1" height="2" fill="#f8304c"/>
<rect x="928" y="408" width="1" height="8" fill="#f8304c"/>
<rect x="927" y="397" width="3" height="11" fill="#f8304c"/>
<rect x="928" y="398" width="1" height="9" fill="#0a0a0a"/>
<rect x="933" y="390" width="1" height="34" fill="#36c878"/>
<rect x="932" y="399" width="3" height="18" fill="#36c878"/>
<rect x="938" y="394" width="1" height="7" fill="#f8304c"/>
<rect x="938" y="417" width="1" height="2" fill="#f8304c"/>
<rect x="937" y="401" width="3" height="16" fill="#f8304c"/>
<rect x="938" y="402" width="1" height="14" fill="#0a0a0a"/>
<rect x="943" y="375" width="1" height="11" fill="#f8304c"/>
<rect x="943" y="401" width="1" height="1" fill="#f8304c"/>
<rect x="942" y="386" width="3" height="15" fill="#f8304c"/>
<rect x="943" y="387" width="1" height="13" fill="#0a0a0a"/>
<rect x="948" y="378" width="1" height="17" fill="#36c878"/>
<rect x="947" y="386" width="3" height="1" fill="#36c878"/>
</g>
<g shape-rendering="crispEdges" fill="#ffffff">
<rect x="90" y="240" width="923" height="1"/>
<rect x="90" y="333" width="923" height="1"/>
<rect x="90" y="370" width="923" height="1"/>
<rect x="90" y="424" width="923" height="1"/>
</g>
<rect x="91" y="241" width="922" height="0.5" fill="#ffffff" opacity="0.35"/>
<text x="1013" y="237" font-size="12" fill="#ffffff" text-anchor="end" font-weight="normal" font-family="'Liberation Sans', sans-serif" stroke="#ffffff" stroke-width="0.25">1.2999</text>
<text x="1013" y="330" font-size="12" fill="#ffffff" text-anchor="end" font-weight="normal" font-family="'Liberation Sans', sans-serif" stroke="#ffffff" stroke-width="0.25">1.2747</text>
<text x="1013" y="367" font-size="12" fill="#ffffff" text-anchor="end" font-weight="normal" font-family="'Liberation Sans', sans-serif" stroke="#ffffff" stroke-width="0.25">1.2648</text>
<text x="1013" y="421" font-size="12" fill="#ffffff" text-anchor="end" font-weight="normal" font-family="'Liberation Sans', sans-serif" stroke="#ffffff" stroke-width="0.25">1.2501</text>
<path d="M91 386.5H1013" stroke="#f0a030" stroke-width="1" stroke-dasharray="3 3" shape-rendering="crispEdges"/>
<path d="M255 21.5h1M256 22.5h2M258 23.5h2M260 24.5h1M261 25.5h2M263 26.5h2M265 27.5h2M267 28.5h1M268 29.5h2M270 30.5h2M272 31.5h1M273 32.5h2M275 33.5h2M277 34.5h2M279 35.5h1M280 36.5h2M282 37.5h2M284 38.5h1M285 39.5h2M287 40.5h2M289 41.5h2M291 42.5h1M292 43.5h2M294 44.5h2M296 45.5h1M297 46.5h2M299 47.5h2M301 48.5h1M302 49.5h2M304 50.5h2M306 51.5h2M308 52.5h1M309 53.5h2M311 54.5h2M313 55.5h1M314 56.5h2M316 57.5h2M318 58.5h2M320 59.5h1M321 60.5h2M323 61.5h2M325 62.5h1M326 63.5h2M328 64.5h2M330 65.5h1M331 66.5h2M333 67.5h2M335 68.5h2M337 69.5h1M338 70.5h2M340 71.5h2M342 72.5h1M343 73.5h2M345 74.5h2M347 75.5h2M349 76.5h1M350 77.5h2M352 78.5h2M354 79.5h1M355 80.5h2M357 81.5h2M359 82.5h2M361 83.5h1M362 84.5h2M364 85.5h2M366 86.5h1M367 87.5h2M369 88.5h2M371 89.5h1M372 90.5h2M374 91.5h2M376 92.5h2M378 93.5h1M379 94.5h2M381 95.5h2M383 96.5h1M384 97.5h2M386 98.5h2M388 99.5h2M390 100.5h1M391 101.5h2M393 102.5h2M395 103.5h1M396 104.5h2M398 105.5h2M400 106.5h1M401 107.5h2M403 108.5h2M405 109.5h2M407 110.5h1M408 111.5h2M410 112.5h2M412 113.5h1M413 114.5h2M415 115.5h2M417 116.5h2M419 117.5h1M420 118.5h2M422 119.5h2M424 120.5h1M425 121.5h2M427 122.5h2M429 123.5h2M431 124.5h1M432 125.5h2M434 126.5h2M436 127.5h1M437 128.5h2M439 129.5h2M441 130.5h1M442 131.5h2M444 132.5h2M446 133.5h2M448 134.5h1M449 135.5h2M451 136.5h2M453 137.5h1M454 138.5h2M456 139.5h2M458 140.5h2M460 141.5h1M461 142.5h2M463 143.5h2M465 144.5h1M466 145.5h2M468 146.5h2M470 147.5h1M471 148.5h2M473 149.5h2M475 150.5h2M477 151.5h1M478 152.5h2M480 153.5h2M482 154.5h1M483 155.5h2M485 156.5h2M487 157.5h2M489 158.5h1M490 159.5h2M492 160.5h2M494 161.5h1M495 162.5h2M497 163.5h2M499 164.5h2M501 165.5h1M502 166.5h2M504 167.5h2M506 168.5h1M507 169.5h2M509 170.5h2M511 171.5h1M512 172.5h2M514 173.5h2M516 174.5h2M518 175.5h1M519 176.5h2M521 177.5h2M523 178.5h1M524 179.5h2M526 180.5h2M528 181.5h2M530 182.5h1M531 183.5h2M533 184.5h2M535 185.5h1M536 186.5h2M538 187.5h2M540 188.5h1M541 189.5h2M543 190.5h2M545 191.5h2M547 192.5h1M548 193.5h2M550 194.5h2M552 195.5h1M553 196.5h2M555 197.5h2M557 198.5h2M559 199.5h1M560 200.5h2M562 201.5h2M564 202.5h1M565 203.5h2M567 204.5h2M569 205.5h2M571 206.5h1M572 207.5h2M574 208.5h2M576 209.5h1M577 210.5h2M579 211.5h2M581 212.5h1M582 213.5h2M584 214.5h2M586 215.5h2M588 216.5h1M589 217.5h2M591 218.5h2M593 219.5h1M594 220.5h2M596 221.5h2M598 222.5h2M600 223.5h1M601 224.5h2M603 225.5h2M605 226.5h1M606 227.5h2M608 228.5h2M610 229.5h1M611 230.5h2M613 231.5h2M615 232.5h2M617 233.5h1M618 234.5h2M620 235.5h2M622 236.5h1M623 237.5h2M625 238.5h2M627 239.5h2M629 240.5h1M630 241.5h2M632 242.5h2M634 243.5h1M635 244.5h2M637 245.5h2M639 246.5h2M641 247.5h1M642 248.5h2M644 249.5h2M646 250.5h1M647 251.5h2M649 252.5h2M651 253.5h1M652 254.5h2M654 255.5h2M656 256.5h2M658 257.5h1M659 258.5h2M661 259.5h2M663 260.5h1M664 261.5h2M666 262.5h2M668 263.5h2M670 264.5h1M671 265.5h2M673 266.5h2M675 267.5h1M676 268.5h2M678 269.5h2M680 270.5h1M681 271.5h2M683 272.5h2M685 273.5h2M687 274.5h1M688 275.5h2M690 276.5h2M692 277.5h1M693 278.5h2M695 279.5h2M697 280.5h2M699 281.5h1M700 282.5h2M702 283.5h2M704 284.5h1M705 285.5h2M707 286.5h2M709 287.5h2M711 288.5h1M712 289.5h2M714 290.5h2M716 291.5h1M717 292.5h2M719 293.5h2M721 294.5h1M722 295.5h2M724 296.5h2M726 297.5h2M728 298.5h1M729 299.5h2M731 300.5h2M733 301.5h1M734 302.5h2M736 303.5h2M738 304.5h2M740 305.5h1M741 306.5h2M743 307.5h2M745 308.5h1M746 309.5h2M748 310.5h2M750 311.5h1M751 312.5h2M753 313.5h2M755 314.5h2M757 315.5h1M758 316.5h2M760 317.5h2M762 318.5h1M763 319.5h2M765 320.5h2M767 321.5h2M769 322.5h1M770 323.5h2M772 324.5h2M774 325.5h1M775 326.5h2M777 327.5h2M779 328.5h2M781 329.5h1M782 330.5h2M784 331.5h2M786 332.5h1M787 333.5h2M789 334.5h2M791 335.5h1M792 336.5h2M794 337.5h2M796 338.5h2M798 339.5h1M799 340.5h2M801 341.5h2M803 342.5h1M804 343.5h2M806 344.5h2M808 345.5h2M810 346.5h1M811 347.5h2M813 348.5h2M815 349.5h1M816 350.5h2M818 351.5h2M820 352.5h1M821 353.5h2M823 354.5h2M825 355.5h2M827 356.5h1M828 357.5h2M830 358.5h2M832 359.5h1M833 360.5h2M835 361.5h2M837 362.5h2M839 363.5h1M840 364.5h2M842 365.5h2M844 366.5h1M845 367.5h2M847 368.5h2M849 369.5h2M851 370.5h1M852 371.5h2M854 372.5h2M856 373.5h1M857 374.5h2M859 375.5h2M861 376.5h1M862 377.5h2M864 378.5h2M866 379.5h2M868 380.5h1M869 381.5h2M871 382.5h2M873 383.5h1M874 384.5h2M876 385.5h2M878 386.5h2M880 387.5h1M881 388.5h2M883 389.5h2M885 390.5h1M886 391.5h2M888 392.5h2M890 393.5h1M891 394.5h2M893 395.5h2M895 396.5h2M897 397.5h1M898 398.5h2M900 399.5h2M902 400.5h1M903 401.5h2M905 402.5h2M907 403.5h2M909 404.5h1M910 405.5h2M912 406.5h2M914 407.5h1M915 408.5h2M917 409.5h2M919 410.5h2M921 411.5h1M922 412.5h2M924 413.5h2M926 414.5h1M927 415.5h2M929 416.5h2M931 417.5h1M932 418.5h2M934 419.5h2M936 420.5h2M938 421.5h1M939 422.5h2M941 423.5h2M943 424.5h1M944 425.5h2M946 426.5h2M948 427.5h2M950 428.5h1M951 429.5h2M953 430.5h2M955 431.5h1M956 432.5h2M958 433.5h2M960 434.5h1M961 435.5h2M963 436.5h2M965 437.5h2M967 438.5h1M968 439.5h2M970 440.5h2M972 441.5h1M973 442.5h2M975 443.5h2M977 444.5h2M979 445.5h1M980 446.5h2M982 447.5h2M984 448.5h1M985 449.5h2M987 450.5h2M989 451.5h2M991 452.5h1M992 453.5h2M994 454.5h2M996 455.5h1M997 456.5h2M999 457.5h2M1001 458.5h1M1002 459.5h2M1004 460.5h2M1006 461.5h2M1008 462.5h1M1009 463.5h2M1011 464.5h2" stroke="#f08284" stroke-width="1" fill="none" shape-rendering="crispEdges" />
<g shape-rendering="crispEdges" fill="#ffffff">
<rect x="171" y="242" width="7" height="1"/><rect x="173" y="241" width="1" height="3"/>
<rect x="871" y="475" width="7" height="1"/><rect x="873" y="473" width="1" height="4"/>
</g>
<text x="178.5" y="254.3" font-size="12.25" fill="#32c878" text-anchor="start" font-weight="bold" font-family="'Liberation Sans', sans-serif" >1.2994</text>
<text x="878.5" y="487.3" font-size="12.25" fill="#32c878" text-anchor="start" font-weight="bold" font-family="'Liberation Sans', sans-serif" >1.2365</text>
<rect x="1013" y="386" width="68" height="1" fill="#f0a030" shape-rendering="crispEdges"/>
<path d="M1073 378h8l-4 4z M1073 382h8l-4 4z" fill="#f0a030"/>
<path d="M90 528.5H1013" stroke="#303030" stroke-width="1" stroke-dasharray="3 3" shape-rendering="crispEdges"/>
<g shape-rendering="crispEdges" fill="#3a3a3a">
<rect x="87" y="528" width="3" height="1" fill="#2c2c2c"/>
<rect x="1013" y="528" width="4" height="1" fill="#323232"/>
<rect x="89" y="533" width="1" height="1" fill="#303030"/>
<rect x="1014" y="533" width="1" height="1"/>
<rect x="89" y="538" width="1" height="1" fill="#303030"/>
<rect x="1014" y="538" width="1" height="1"/>
<rect x="89" y="543" width="1" height="1" fill="#303030"/>
<rect x="1014" y="543" width="1" height="1"/>
<rect x="89" y="548" width="1" height="1" fill="#303030"/>
<rect x="1014" y="548" width="1" height="1"/>
<rect x="87" y="553" width="3" height="1" fill="#2c2c2c"/>
<rect x="1013" y="553" width="4" height="1" fill="#323232"/>
<rect x="89" y="558" width="1" height="1" fill="#303030"/>
<rect x="1014" y="558" width="1" height="1"/>
<rect x="89" y="563" width="1" height="1" fill="#303030"/>
<rect x="1014" y="563" width="1" height="1"/>
<rect x="89" y="568" width="1" height="1" fill="#303030"/>
<rect x="1014" y="568" width="1" height="1"/>
<rect x="89" y="573" width="1" height="1" fill="#303030"/>
<rect x="1014" y="573" width="1" height="1"/>
<rect x="87" y="578" width="3" height="1" fill="#2c2c2c"/>
<rect x="1013" y="578" width="4" height="1" fill="#323232"/>
<rect x="89" y="583" width="1" height="1" fill="#303030"/>
<rect x="1014" y="583" width="1" height="1"/>
<rect x="89" y="588" width="1" height="1" fill="#303030"/>
<rect x="1014" y="588" width="1" height="1"/>
<rect x="89" y="593" width="1" height="1" fill="#303030"/>
<rect x="1014" y="593" width="1" height="1"/>
<rect x="89" y="598" width="1" height="1" fill="#303030"/>
<rect x="1014" y="598" width="1" height="1"/>
<rect x="87" y="603" width="3" height="1" fill="#2c2c2c"/>
<rect x="1013" y="603" width="4" height="1" fill="#323232"/>
<rect x="89" y="608" width="1" height="1" fill="#303030"/>
<rect x="1014" y="608" width="1" height="1"/>
<rect x="89" y="613" width="1" height="1" fill="#303030"/>
<rect x="1014" y="613" width="1" height="1"/>
<rect x="89" y="618" width="1" height="1" fill="#303030"/>
<rect x="1014" y="618" width="1" height="1"/>
<rect x="89" y="623" width="1" height="1" fill="#303030"/>
<rect x="1014" y="623" width="1" height="1"/>
<rect x="87" y="628" width="3" height="1" fill="#2c2c2c"/>
<rect x="1013" y="628" width="4" height="1" fill="#323232"/>
<rect x="89" y="633" width="1" height="1" fill="#303030"/>
<rect x="1014" y="633" width="1" height="1"/>
<rect x="89" y="638" width="1" height="1" fill="#303030"/>
<rect x="1014" y="638" width="1" height="1"/>
<rect x="89" y="643" width="1" height="1" fill="#303030"/>
<rect x="1014" y="643" width="1" height="1"/>
<rect x="89" y="648" width="1" height="1" fill="#303030"/>
<rect x="1014" y="648" width="1" height="1"/>
<rect x="87" y="653" width="3" height="1" fill="#2c2c2c"/>
<rect x="1013" y="653" width="4" height="1" fill="#323232"/>
<rect x="89" y="658" width="1" height="1" fill="#303030"/>
<rect x="1014" y="658" width="1" height="1"/>
<rect x="89" y="663" width="1" height="1" fill="#303030"/>
<rect x="1014" y="663" width="1" height="1"/>
<rect x="89" y="668" width="1" height="1" fill="#303030"/>
<rect x="1014" y="668" width="1" height="1"/>
<rect x="89" y="673" width="1" height="1" fill="#303030"/>
<rect x="1014" y="673" width="1" height="1"/>
<rect x="87" y="678" width="3" height="1" fill="#2c2c2c"/>
<rect x="1013" y="678" width="4" height="1" fill="#323232"/>
<rect x="89" y="683" width="1" height="1" fill="#303030"/>
<rect x="1014" y="683" width="1" height="1"/>
<rect x="89" y="688" width="1" height="1" fill="#303030"/>
<rect x="1014" y="688" width="1" height="1"/>
<rect x="89" y="693" width="1" height="1" fill="#303030"/>
<rect x="1014" y="693" width="1" height="1"/>
<rect x="89" y="698" width="1" height="1" fill="#303030"/>
<rect x="1014" y="698" width="1" height="1"/>
</g>
<text x="86.4" y="531.9" font-size="12" fill="#ee2a3c" text-anchor="end" font-weight="normal" font-family="'Liberation Sans', sans-serif" >0.0068</text>
<text x="1016.4" y="531.9" font-size="12" fill="#ee2a3c" text-anchor="start" font-weight="normal" font-family="'Liberation Sans', sans-serif" >0.0068</text>
<text x="86.4" y="556.9" font-size="12" fill="#ee2a3c" text-anchor="end" font-weight="normal" font-family="'Liberation Sans', sans-serif" >0.0044</text>
<text x="1016.4" y="556.9" font-size="12" fill="#ee2a3c" text-anchor="start" font-weight="normal" font-family="'Liberation Sans', sans-serif" >0.0044</text>
<text x="86.4" y="581.9" font-size="12" fill="#ee2a3c" text-anchor="end" font-weight="normal" font-family="'Liberation Sans', sans-serif" >0.0020</text>
<text x="1016.4" y="581.9" font-size="12" fill="#ee2a3c" text-anchor="start" font-weight="normal" font-family="'Liberation Sans', sans-serif" >0.0020</text>
<text x="86.4" y="606.9" font-size="12" fill="#ee2a3c" text-anchor="end" font-weight="normal" font-family="'Liberation Sans', sans-serif" >-0.0004</text>
<text x="1016.4" y="606.9" font-size="12" fill="#ee2a3c" text-anchor="start" font-weight="normal" font-family="'Liberation Sans', sans-serif" >-0.0004</text>
<text x="86.4" y="631.9" font-size="12" fill="#ee2a3c" text-anchor="end" font-weight="normal" font-family="'Liberation Sans', sans-serif" >-0.0027</text>
<text x="1016.4" y="631.9" font-size="12" fill="#ee2a3c" text-anchor="start" font-weight="normal" font-family="'Liberation Sans', sans-serif" >-0.0027</text>
<text x="86.4" y="656.9" font-size="12" fill="#ee2a3c" text-anchor="end" font-weight="normal" font-family="'Liberation Sans', sans-serif" >-0.0051</text>
<text x="1016.4" y="656.9" font-size="12" fill="#ee2a3c" text-anchor="start" font-weight="normal" font-family="'Liberation Sans', sans-serif" >-0.0051</text>
<text x="86.4" y="681.9" font-size="12" fill="#ee2a3c" text-anchor="end" font-weight="normal" font-family="'Liberation Sans', sans-serif" >-0.0075</text>
<text x="1016.4" y="681.9" font-size="12" fill="#ee2a3c" text-anchor="start" font-weight="normal" font-family="'Liberation Sans', sans-serif" >-0.0075</text>
<g><circle cx="29" cy="514" r="3.2" fill="#fff"/><circle cx="29" cy="514" r="2" fill="#ff0a14"/>
<g fill="#ff0a14" shape-rendering="crispEdges">
<rect x="28" y="507" width="1" height="2"/>
<rect x="28" y="519" width="1" height="2"/>
<rect x="22" y="513" width="2" height="1"/>
<rect x="34" y="513" width="2" height="1"/>
<rect x="23" y="508" width="1" height="1"/>
<rect x="24" y="509" width="1" height="1"/>
<rect x="34" y="508" width="1" height="1"/>
<rect x="33" y="509" width="1" height="1"/>
<rect x="23" y="519" width="1" height="1"/>
<rect x="24" y="518" width="1" height="1"/>
<rect x="33" y="518" width="1" height="1"/>
<rect x="34" y="519" width="1" height="1"/>
</g></g>
<text x="92.3" y="521" font-size="12.2" fill="#ffffff" text-anchor="start" font-weight="normal" font-family="'Liberation Sans', sans-serif" >MACD(26,12,9)</text>
<text x="182.3" y="521" font-size="11.95" fill="#ffffff" text-anchor="start" font-weight="normal" font-family="'Liberation Sans', sans-serif" >DIFF:-0.0007</text>
<text x="260.8" y="521" font-size="12.2" fill="#d4d420" text-anchor="start" font-weight="normal" font-family="'Liberation Sans', sans-serif" >DEA:-0.0016</text>
<text x="339.2" y="521" font-size="12.25" fill="#e428e4" text-anchor="start" font-weight="normal" font-family="'Liberation Sans', sans-serif" >MACD:0.0020</text>
<g shape-rendering="crispEdges">
<rect x="93" y="600" width="1" height="2" fill="#36c878"/>
<rect x="98" y="600" width="1" height="3" fill="#36c878"/>
<rect x="103" y="600" width="1" height="10" fill="#36c878"/>
<rect x="108" y="600" width="1" height="16" fill="#36c878"/>
<rect x="113" y="600" width="1" height="12" fill="#36c878"/>
<rect x="118" y="600" width="1" height="14" fill="#36c878"/>
<rect x="123" y="600" width="1" height="20" fill="#36c878"/>
<rect x="128" y="600" width="1" height="15" fill="#36c878"/>
<rect x="133" y="600" width="1" height="13" fill="#36c878"/>
<rect x="138" y="600" width="1" height="12" fill="#36c878"/>
<rect x="143" y="600" width="1" height="3" fill="#36c878"/>
<rect x="148" y="600" width="1" height="2" fill="#36c878"/>
<rect x="153" y="600" width="1" height="4" fill="#36c878"/>
<rect x="158" y="600" width="1" height="6" fill="#36c878"/>
<rect x="163" y="600" width="1" height="9" fill="#36c878"/>
<rect x="168" y="600" width="1" height="16" fill="#36c878"/>
<rect x="173" y="600" width="1" height="15" fill="#36c878"/>
<rect x="178" y="600" width="1" height="16" fill="#36c878"/>
<rect x="183" y="600" width="1" height="2" fill="#36c878"/>
<rect x="188" y="600" width="1" height="1" fill="#36c878"/>
<rect x="193" y="593" width="1" height="8" fill="#f8304c"/>
<rect x="198" y="569" width="1" height="32" fill="#f8304c"/>
<rect x="203" y="566" width="1" height="35" fill="#f8304c"/>
<rect x="208" y="558" width="1" height="43" fill="#f8304c"/>
<rect x="213" y="556" width="1" height="45" fill="#f8304c"/>
<rect x="218" y="556" width="1" height="45" fill="#f8304c"/>
<rect x="223" y="556" width="1" height="45" fill="#f8304c"/>
<rect x="228" y="558" width="1" height="43" fill="#f8304c"/>
<rect x="233" y="562" width="1" height="39" fill="#f8304c"/>
<rect x="238" y="561" width="1" height="40" fill="#f8304c"/>
<rect x="243" y="548" width="1" height="53" fill="#f8304c"/>
<rect x="248" y="542" width="1" height="59" fill="#f8304c"/>
<rect x="253" y="530" width="1" height="71" fill="#f8304c"/>
<rect x="258" y="530" width="1" height="71" fill="#f8304c"/>
<rect x="263" y="530" width="1" height="71" fill="#f8304c"/>
<rect x="268" y="534" width="1" height="67" fill="#f8304c"/>
<rect x="273" y="539" width="1" height="62" fill="#f8304c"/>
<rect x="278" y="554" width="1" height="47" fill="#f8304c"/>
<rect x="283" y="571" width="1" height="30" fill="#f8304c"/>
<rect x="288" y="581" width="1" height="20" fill="#f8304c"/>
<rect x="293" y="594" width="1" height="7" fill="#f8304c"/>
<rect x="298" y="597" width="1" height="4" fill="#f8304c"/>
<rect x="303" y="600" width="1" height="8" fill="#36c878"/>
<rect x="308" y="600" width="1" height="22" fill="#36c878"/>
<rect x="313" y="600" width="1" height="40" fill="#36c878"/>
<rect x="318" y="600" width="1" height="51" fill="#36c878"/>
<rect x="323" y="600" width="1" height="52" fill="#36c878"/>
<rect x="328" y="600" width="1" height="49" fill="#36c878"/>
<rect x="333" y="600" width="1" height="35" fill="#36c878"/>
<rect x="338" y="600" width="1" height="28" fill="#36c878"/>
<rect x="343" y="600" width="1" height="22" fill="#36c878"/>
<rect x="348" y="600" width="1" height="25" fill="#36c878"/>
<rect x="353" y="600" width="1" height="23" fill="#36c878"/>
<rect x="358" y="600" width="1" height="22" fill="#36c878"/>
<rect x="363" y="600" width="1" height="20" fill="#36c878"/>
<rect x="368" y="600" width="1" height="8" fill="#36c878"/>
<rect x="373" y="600" width="1" height="2" fill="#36c878"/>
<rect x="378" y="579" width="1" height="22" fill="#f8304c"/>
<rect x="383" y="565" width="1" height="36" fill="#f8304c"/>
<rect x="388" y="559" width="1" height="42" fill="#f8304c"/>
<rect x="393" y="570" width="1" height="31" fill="#f8304c"/>
<rect x="398" y="589" width="1" height="12" fill="#f8304c"/>
<rect x="403" y="600" width="1" height="3" fill="#36c878"/>
<rect x="408" y="600" width="1" height="23" fill="#36c878"/>
<rect x="413" y="600" width="1" height="34" fill="#36c878"/>
<rect x="418" y="600" width="1" height="44" fill="#36c878"/>
<rect x="423" y="600" width="1" height="45" fill="#36c878"/>
<rect x="428" y="600" width="1" height="38" fill="#36c878"/>
<rect x="433" y="600" width="1" height="21" fill="#36c878"/>
<rect x="438" y="600" width="1" height="10" fill="#36c878"/>
<rect x="443" y="600" width="1" height="10" fill="#36c878"/>
<rect x="448" y="600" width="1" height="4" fill="#36c878"/>
<rect x="453" y="600" width="1" height="4" fill="#36c878"/>
<rect x="458" y="600" width="1" height="3" fill="#36c878"/>
<rect x="463" y="599" width="1" height="2" fill="#f8304c"/>
<rect x="468" y="597" width="1" height="4" fill="#f8304c"/>
<rect x="473" y="600" width="1" height="8" fill="#36c878"/>
<rect x="478" y="600" width="1" height="12" fill="#36c878"/>
<rect x="483" y="600" width="1" height="12" fill="#36c878"/>
<rect x="488" y="600" width="1" height="13" fill="#36c878"/>
<rect x="493" y="600" width="1" height="12" fill="#36c878"/>
<rect x="498" y="600" width="1" height="19" fill="#36c878"/>
<rect x="503" y="600" width="1" height="24" fill="#36c878"/>
<rect x="508" y="600" width="1" height="32" fill="#36c878"/>
<rect x="513" y="600" width="1" height="46" fill="#36c878"/>
<rect x="518" y="600" width="1" height="49" fill="#36c878"/>
<rect x="523" y="600" width="1" height="44" fill="#36c878"/>
<rect x="528" y="600" width="1" height="38" fill="#36c878"/>
<rect x="533" y="600" width="1" height="41" fill="#36c878"/>
<rect x="538" y="600" width="1" height="36" fill="#36c878"/>
<rect x="543" y="600" width="1" height="30" fill="#36c878"/>
<rect x="548" y="600" width="1" height="31" fill="#36c878"/>
<rect x="553" y="600" width="1" height="24" fill="#36c878"/>
<rect x="558" y="600" width="1" height="19" fill="#36c878"/>
<rect x="563" y="600" width="1" height="4" fill="#36c878"/>
<rect x="568" y="583" width="1" height="18" fill="#f8304c"/>
<rect x="573" y="563" width="1" height="38" fill="#f8304c"/>
<rect x="578" y="558" width="1" height="43" fill="#f8304c"/>
<rect x="583" y="554" width="1" height="47" fill="#f8304c"/>
<rect x="588" y="554" width="1" height="47" fill="#f8304c"/>
<rect x="593" y="560" width="1" height="41" fill="#f8304c"/>
<rect x="598" y="572" width="1" height="29" fill="#f8304c"/>
<rect x="603" y="584" width="1" height="17" fill="#f8304c"/>
<rect x="608" y="585" width="1" height="16" fill="#f8304c"/>
<rect x="613" y="600" width="1" height="1" fill="#f8304c"/>
<rect x="618" y="600" width="1" height="8" fill="#36c878"/>
<rect x="623" y="600" width="1" height="9" fill="#36c878"/>
<rect x="628" y="600" width="1" height="7" fill="#36c878"/>
<rect x="633" y="592" width="1" height="9" fill="#f8304c"/>
<rect x="638" y="592" width="1" height="9" fill="#f8304c"/>
<rect x="643" y="594" width="1" height="7" fill="#f8304c"/>
<rect x="648" y="600" width="1" height="2" fill="#36c878"/>
<rect x="653" y="593" width="1" height="8" fill="#f8304c"/>
<rect x="658" y="584" width="1" height="17" fill="#f8304c"/>
<rect x="663" y="581" width="1" height="20" fill="#f8304c"/>
<rect x="668" y="592" width="1" height="9" fill="#f8304c"/>
<rect x="673" y="598" width="1" height="3" fill="#f8304c"/>
<rect x="678" y="589" width="1" height="12" fill="#f8304c"/>
<rect x="683" y="581" width="1" height="20" fill="#f8304c"/>
<rect x="688" y="583" width="1" height="18" fill="#f8304c"/>
<rect x="693" y="570" width="1" height="31" fill="#f8304c"/>
<rect x="698" y="559" width="1" height="42" fill="#f8304c"/>
<rect x="703" y="560" width="1" height="41" fill="#f8304c"/>
<rect x="708" y="553" width="1" height="48" fill="#f8304c"/>
<rect x="713" y="559" width="1" height="42" fill="#f8304c"/>
<rect x="718" y="564" width="1" height="37" fill="#f8304c"/>
<rect x="723" y="564" width="1" height="37" fill="#f8304c"/>
<rect x="728" y="575" width="1" height="26" fill="#f8304c"/>
<rect x="733" y="585" width="1" height="16" fill="#f8304c"/>
<rect x="738" y="598" width="1" height="3" fill="#f8304c"/>
<rect x="743" y="600" width="1" height="6" fill="#36c878"/>
<rect x="748" y="600" width="1" height="10" fill="#36c878"/>
<rect x="753" y="600" width="1" height="12" fill="#36c878"/>
<rect x="758" y="600" width="1" height="21" fill="#36c878"/>
<rect x="763" y="600" width="1" height="18" fill="#36c878"/>
<rect x="768" y="600" width="1" height="14" fill="#36c878"/>
<rect x="773" y="600" width="1" height="13" fill="#36c878"/>
<rect x="778" y="600" width="1" height="20" fill="#36c878"/>
<rect x="783" y="600" width="1" height="23" fill="#36c878"/>
<rect x="788" y="600" width="1" height="27" fill="#36c878"/>
<rect x="793" y="600" width="1" height="38" fill="#36c878"/>
<rect x="798" y="600" width="1" height="30" fill="#36c878"/>
<rect x="803" y="600" width="1" height="6" fill="#36c878"/>
<rect x="808" y="600" width="1" height="1" fill="#36c878"/>
<rect x="813" y="598" width="1" height="3" fill="#f8304c"/>
<rect x="818" y="593" width="1" height="8" fill="#f8304c"/>
<rect x="823" y="589" width="1" height="12" fill="#f8304c"/>
<rect x="828" y="587" width="1" height="14" fill="#f8304c"/>
<rect x="833" y="585" width="1" height="16" fill="#f8304c"/>
<rect x="838" y="588" width="1" height="13" fill="#f8304c"/>
<rect x="843" y="592" width="1" height="9" fill="#f8304c"/>
<rect x="848" y="600" width="1" height="7" fill="#36c878"/>
<rect x="853" y="600" width="1" height="23" fill="#36c878"/>
<rect x="858" y="600" width="1" height="31" fill="#36c878"/>
<rect x="863" y="600" width="1" height="38" fill="#36c878"/>
<rect x="868" y="600" width="1" height="44" fill="#36c878"/>
<rect x="873" y="600" width="1" height="35" fill="#36c878"/>
<rect x="878" y="600" width="1" height="25" fill="#36c878"/>
<rect x="883" y="600" width="1" height="13" fill="#36c878"/>
<rect x="888" y="594" width="1" height="7" fill="#f8304c"/>
<rect x="893" y="584" width="1" height="17" fill="#f8304c"/>
<rect x="898" y="572" width="1" height="29" fill="#f8304c"/>
<rect x="903" y="571" width="1" height="30" fill="#f8304c"/>
<rect x="908" y="569" width="1" height="32" fill="#f8304c"/>
<rect x="913" y="562" width="1" height="39" fill="#f8304c"/>
<rect x="918" y="570" width="1" height="31" fill="#f8304c"/>
<rect x="923" y="577" width="1" height="24" fill="#f8304c"/>
<rect x="928" y="578" width="1" height="23" fill="#f8304c"/>
<rect x="933" y="587" width="1" height="14" fill="#f8304c"/>
<rect x="938" y="587" width="1" height="14" fill="#f8304c"/>
<rect x="943" y="581" width="1" height="20" fill="#f8304c"/>
<rect x="948" y="579" width="1" height="22" fill="#f8304c"/>
</g>
<path d="M93 666.5h2M95 667.5h4M99 668.5h1M100 669.5h1M101 670.5h1M102 671.5h1M103 672.5h1M104 673.5h1M105 674.5h1M106 675.5h1M107 676.5h1M108 677.5h3M111 676.5h3M114 677.5h2M116 678.5h2M118 679.5h1M119 680.5h1M120 681.5h1M121 682.5h1M122 683.5h1M123 684.5h11M134 685.5h5M139 684.5h2M141 683.5h1M142 682.5h1M143 681.5h9M152 682.5h3M155 683.5h3M158 684.5h2M160 685.5h2M162 686.5h2M164 687.5h1M165 688.5h1M166.5 689v2M167 691.5h1M168 692.5h4M172 693.5h3M175 694.5h2M177 695.5h2M179.5 693v2M180 692.5h1M181 691.5h1M182.5 689v2M183 688.5h6M189 687.5h1M190 686.5h1M191 685.5h1M192 684.5h1M193.5 682v2M194.5 679v3M195.5 675v4M196.5 672v3M197.5 669v3M198.5 667v2M199 666.5h1M200 665.5h1M201 664.5h1M202.5 662v2M203 661.5h1M204.5 659v2M205.5 657v2M206.5 655v2M207.5 653v2M208 652.5h1M209 651.5h1M210.5 649v2M211 648.5h1M212 647.5h1M213 646.5h1M214.5 644v2M215 643.5h1M216 642.5h1M217 641.5h1M218 640.5h1M219 639.5h1M220 638.5h1M221 637.5h1M222.5 635v2M223 634.5h1M224 633.5h2M226 632.5h1M227 631.5h1M228 630.5h1M229 629.5h2M231 628.5h2M233 627.5h1M234 626.5h1M235 625.5h1M236 624.5h1M237 623.5h1M238.5 621v2M239.5 618v3M240.5 615v3M241.5 613v2M242.5 610v3M243.5 608v2M244.5 606v2M245.5 604v2M246.5 602v2M247.5 599v3M248.5 597v2M249.5 594v3M250.5 591v3M251.5 588v3M252.5 586v2M253.5 583v3M254.5 581v2M255.5 579v2M256.5 577v2M257 576.5h1M258.5 574v2M259.5 572v2M260.5 570v2M261.5 568v2M262 567.5h1M263.5 565v2M264 564.5h1M265 563.5h1M266 562.5h1M267.5 560v2M268 559.5h1M269 558.5h1M270 557.5h1M271 556.5h1M272 555.5h1M273 554.5h2M275 555.5h2M277 556.5h2M279 557.5h1M280 558.5h1M281 559.5h1M282 560.5h1M283 561.5h1M284 562.5h2M286 563.5h2M288 564.5h1M289 565.5h1M290 566.5h1M291.5 567v2M292 569.5h1M293 570.5h3M296 571.5h3M299.5 572v2M300 574.5h1M301 575.5h1M302.5 576v2M303.5 578v2M304 580.5h1M305.5 581v2M306.5 583v2M307.5 585v2M308.5 587v2M309.5 589v3M310.5 592v3M311.5 595v3M312.5 598v2M313.5 600v3M314.5 603v3M315.5 606v2M316.5 608v2M317.5 610v3M318.5 613v2M319 615.5h1M320 616.5h1M321.5 617v2M322 619.5h1M323 620.5h1M324 621.5h1M325 622.5h1M326 623.5h1M327 624.5h1M328 625.5h1M329 624.5h2M331 623.5h2M333 622.5h11M344 623.5h2M346 624.5h1M347 625.5h1M348 626.5h1M349 627.5h3M352 628.5h3M355 629.5h2M357 630.5h3M360 631.5h4M364 630.5h1M365 629.5h1M366 628.5h1M367 627.5h1M368 626.5h2M370 625.5h1M371 624.5h2M373.5 622v2M374.5 619v3M375.5 617v2M376.5 614v3M377.5 611v3M378.5 608v3M379.5 606v2M380.5 603v3M381.5 601v2M382.5 599v2M383.5 597v2M384.5 595v2M385 594.5h1M386.5 592v2M387.5 590v2M388 589.5h1M389 590.5h3M392 591.5h1M393.5 591v2M394 593.5h1M395.5 594v2M396.5 596v2M397 598.5h1M398.5 599v2M399 601.5h1M400.5 602v2M401 604.5h1M402.5 605v2M403.5 607v2M404.5 609v2M405.5 611v3M406.5 614v2M407.5 616v3M408.5 619v2M409.5 621v2M410.5 623v2M411.5 625v2M412.5 627v2M413.5 629v2M414.5 631v2M415.5 633v2M416.5 635v2M417.5 637v3M418 640.5h1M419 641.5h1M420 642.5h1M421 643.5h1M422.5 644v2M423 646.5h3M426 647.5h3M429 646.5h1M430 645.5h1M431.5 643v2M432 642.5h1M433 641.5h1M434 640.5h1M435 639.5h2M437 638.5h1M438 637.5h3M441 638.5h4M445 637.5h2M447 636.5h12M459 635.5h2M461 634.5h3M464 633.5h3M467 632.5h2M469.5 633v2M470 635.5h1M471 636.5h1M472.5 637v2M473 639.5h2M475 640.5h1M476 641.5h2M478 642.5h2M480 643.5h4M484 644.5h2M486 645.5h3M489 646.5h4M493.5 646v2M494 648.5h1M495 649.5h1M496 650.5h1M497 651.5h1M498 652.5h1M499 653.5h1M500.5 654v2M501 656.5h1M502 657.5h1M503 658.5h1M504.5 659v2M505 661.5h1M506.5 662v2M507.5 664v2M508.5 666v2M509.5 668v2M510.5 670v3M511.5 673v2M512.5 675v3M513.5 678v2M514 680.5h1M515.5 681v2M516 683.5h1M517.5 684v2M518 686.5h2M520 687.5h2M522 688.5h2M524 689.5h2M526 690.5h2M528.5 690v2M529 692.5h1M530 693.5h1M531 694.5h1M532.5 695v2M533 697.5h2M535 698.5h3M538 699.5h6M544 700.5h1M545 701.5h1M546 702.5h1M547 703.5h11M558 702.5h1M559 701.5h1M560.5 699v2M561 698.5h1M562.5 696v2M563.5 694v2M564.5 692v2M565.5 689v3M566.5 687v2M567.5 684v3M568.5 682v2M569.5 679v3M570.5 676v3M571.5 673v3M572.5 670v3M573.5 667v3M574 666.5h1M575.5 664v2M576 663.5h1M577.5 661v2M578 660.5h1M579.5 658v2M580 657.5h1M581.5 655v2M582.5 653v2M583 652.5h1M584 651.5h1M585 650.5h1M586 649.5h1M587 648.5h1M588 647.5h1M589 646.5h2M591 645.5h4M595 646.5h2M597 647.5h2M599 648.5h1M600 649.5h2M602 650.5h1M603 651.5h2M605 650.5h4M609.5 651v2M610 653.5h1M611.5 654v2M612 656.5h1M613 657.5h1M614 658.5h1M615 659.5h1M616 660.5h1M617 661.5h1M618 662.5h1M619 663.5h3M622 664.5h6M628.5 663v2M629 662.5h1M630.5 660v2M631.5 658v2M632.5 656v2M633 655.5h5M638 654.5h2M640 655.5h4M644 656.5h2M646 657.5h1M647 658.5h1M648 659.5h1M649 658.5h1M650 657.5h1M651 656.5h1M652.5 654v2M653 653.5h1M654 652.5h1M655 651.5h1M656.5 649v2M657 648.5h1M658 647.5h1M659 646.5h1M660 645.5h2M662 644.5h1M663 643.5h1M664 644.5h1M665 645.5h1M666 646.5h2M668 647.5h1M669 648.5h2M671 649.5h1M672 650.5h2M674 649.5h1M675 648.5h1M676.5 646v2M677 645.5h1M678 644.5h1M679 643.5h1M680.5 641v2M681 640.5h1M682 639.5h1M683 638.5h2M685 637.5h3M688.5 636v2M689.5 634v2M690.5 632v2M691.5 630v2M692.5 628v2M693.5 626v2M694.5 623v3M695.5 621v2M696.5 619v2M697.5 617v2M698 616.5h1M699 615.5h1M700 614.5h1M701 613.5h1M702 612.5h1M703 611.5h1M704.5 609v2M705.5 607v2M706.5 605v2M707.5 603v2M708 602.5h2M710 601.5h2M712 600.5h2M714 599.5h3M717 598.5h2M719 597.5h1M720 596.5h1M721 595.5h1M722 594.5h1M723 593.5h1M724 594.5h2M726 595.5h2M728 596.5h2M730 597.5h1M731 598.5h2M733 599.5h1M734 600.5h1M735.5 601v2M736 603.5h1M737 604.5h1M738 605.5h1M739 606.5h1M740 607.5h1M741 608.5h1M742 609.5h1M743 610.5h1M744 611.5h2M746 612.5h2M748 613.5h2M750 614.5h2M752 615.5h1M753.5 615v2M754 617.5h1M755.5 618v2M756 620.5h1M757.5 621v2M758 623.5h14M772 624.5h2M774 625.5h1M775 626.5h1M776.5 627v2M777 629.5h1M778 630.5h1M779 631.5h2M781 632.5h1M782 633.5h1M783 634.5h1M784 635.5h1M785 636.5h1M786 637.5h1M787 638.5h1M788.5 639v2M789.5 641v2M790.5 643v2M791.5 645v2M792.5 647v2M793 649.5h5M798.5 648v2M799.5 646v2M800.5 644v2M801.5 641v3M802.5 639v2M803 638.5h1M804 637.5h2M806 636.5h2M808 635.5h3M811 634.5h3M814 633.5h1M815 632.5h1M816 631.5h2M818 630.5h1M819 629.5h2M821 628.5h1M822 627.5h2M824 626.5h2M826 625.5h2M828 624.5h1M829 623.5h2M831 622.5h2M833 621.5h7M840 622.5h3M843.5 622v2M844.5 624v2M845 626.5h1M846.5 627v2M847.5 629v2M848.5 631v2M849.5 633v2M850.5 635v2M851.5 637v2M852.5 639v2M853.5 641v2M854 643.5h1M855.5 644v2M856.5 646v2M857 648.5h1M858.5 649v2M859 651.5h1M860.5 652v2M861.5 654v2M862 656.5h1M863.5 657v2M864.5 659v2M865.5 661v2M866 663.5h1M867.5 664v2M868 666.5h6M874 665.5h3M877 664.5h2M879 663.5h1M880 662.5h1M881 661.5h1M882 660.5h1M883.5 658v2M884.5 656v2M885.5 654v2M886.5 652v2M887.5 650v2M888 649.5h1M889.5 647v2M890 646.5h1M891.5 644v2M892 643.5h1M893.5 641v2M894.5 639v2M895.5 637v2M896.5 635v2M897 634.5h1M898 633.5h1M899 632.5h1M900 631.5h1M901 630.5h1M902 629.5h1M903 628.5h1M904 627.5h1M905 626.5h1M906 625.5h1M907 624.5h1M908 623.5h1M909.5 621v2M910.5 619v2M911 618.5h1M912.5 616v2M913 615.5h6M919 616.5h6M925 615.5h2M927 614.5h3M930 615.5h1M931 616.5h2M933 617.5h1M934 616.5h3M937 615.5h2M939 614.5h1M940 613.5h1M941 612.5h1M942 611.5h1M943 610.5h2M945 609.5h1M946 608.5h2M948 607.5h1" stroke="#f4f4f4" stroke-width="1" fill="none" shape-rendering="crispEdges" />
<path d="M93 666.5h8M101 667.5h4M105 668.5h2M107 669.5h3M110 670.5h4M114 671.5h3M117 672.5h2M119 673.5h2M121 674.5h2M123 675.5h3M126 676.5h3M129 677.5h3M132 678.5h3M135 679.5h4M139 680.5h16M155 681.5h6M161 682.5h4M165 683.5h3M168 684.5h2M170 685.5h3M173 686.5h3M176 687.5h4M180 688.5h9M189 687.5h5M194 686.5h1M195 685.5h1M196 684.5h2M198 683.5h1M199 682.5h1M200 681.5h1M201 680.5h1M202 679.5h2M204 678.5h1M205.5 676v2M206 675.5h1M207 674.5h1M208 673.5h1M209 672.5h1M210 671.5h1M211 670.5h1M212 669.5h1M213 668.5h1M214 667.5h1M215 666.5h1M216.5 664v2M217 663.5h1M218 662.5h1M219 661.5h1M220 660.5h1M221 659.5h1M222 658.5h1M223 657.5h1M224.5 655v2M225 654.5h1M226 653.5h1M227 652.5h1M228 651.5h1M229 650.5h1M230 649.5h1M231 648.5h1M232 647.5h1M233 646.5h1M234 645.5h1M235 644.5h1M236 643.5h1M237 642.5h1M238 641.5h1M239 640.5h1M240 639.5h1M241.5 637v2M242 636.5h1M243.5 634v2M244 633.5h1M245 632.5h1M246.5 630v2M247 629.5h1M248.5 627v2M249.5 625v2M250.5 623v2M251 622.5h1M252.5 620v2M253.5 618v2M254.5 616v2M255.5 614v2M256 613.5h1M257.5 611v2M258.5 609v2M259.5 607v2M260.5 605v2M261 604.5h1M262.5 602v2M263.5 600v2M264 599.5h1M265.5 597v2M266.5 595v2M267 594.5h1M268.5 592v2M269.5 590v2M270 589.5h1M271.5 587v2M272 586.5h1M273 585.5h1M274 584.5h1M275.5 582v2M276 581.5h1M277 580.5h1M278 579.5h1M279 578.5h2M281 577.5h1M282 576.5h2M284 575.5h2M286 574.5h2M288 573.5h14M302 574.5h3M305 575.5h2M307 576.5h1M308 577.5h1M309 578.5h1M310 579.5h1M311 580.5h1M312 581.5h1M313 582.5h1M314 583.5h1M315 584.5h1M316.5 585v2M317 587.5h1M318 588.5h1M319.5 589v2M320 591.5h1M321 592.5h1M322 593.5h1M323.5 594v2M324 596.5h1M325 597.5h1M326 598.5h1M327 599.5h1M328 600.5h1M329 601.5h1M330 602.5h1M331 603.5h1M332 604.5h1M333 605.5h2M335 606.5h1M336 607.5h2M338 608.5h1M339 609.5h2M341 610.5h2M343 611.5h1M344 612.5h2M346 613.5h2M348 614.5h1M349 615.5h2M351 616.5h2M353 617.5h2M355 618.5h2M357 619.5h2M359 620.5h2M361 621.5h2M363 622.5h9M372 623.5h2M374 622.5h1M375 621.5h2M377 620.5h2M379 619.5h1M380 618.5h1M381 617.5h1M382 616.5h1M383 615.5h1M384 614.5h1M385 613.5h1M386 612.5h1M387 611.5h1M388 610.5h1M389 609.5h2M391 608.5h1M392 607.5h1M393 606.5h4M397 605.5h7M404 606.5h2M406 607.5h1M407 608.5h2M409 609.5h1M410 610.5h1M411 611.5h1M412 612.5h1M413.5 612v2M414 614.5h1M415 615.5h1M416 616.5h1M417 617.5h1M418 618.5h1M419 619.5h1M420 620.5h1M421 621.5h1M422 622.5h1M423 623.5h1M424 624.5h1M425 625.5h1M426 626.5h1M427 627.5h1M428 628.5h1M429 629.5h2M431 630.5h2M433 631.5h3M436 632.5h4M440 633.5h5M445 634.5h27M472 635.5h4M476 636.5h4M480 637.5h3M483 638.5h3M486 639.5h4M490 640.5h3M493 641.5h2M495 642.5h3M498 643.5h1M499 644.5h2M501 645.5h2M503 646.5h1M504 647.5h2M506 648.5h1M507 649.5h1M508 650.5h1M509 651.5h1M510 652.5h1M511 653.5h1M512 654.5h1M513.5 655v2M514 657.5h1M515 658.5h1M516 659.5h1M517 660.5h1M518 661.5h1M519.5 662v2M520 664.5h1M521 665.5h1M522 666.5h1M523 667.5h1M524 668.5h1M525 669.5h1M526 670.5h2M528 671.5h1M529 672.5h1M530 673.5h1M531 674.5h1M532 675.5h1M533 676.5h1M534 677.5h1M535 678.5h1M536 679.5h1M537 680.5h1M538 681.5h1M539 682.5h2M541 683.5h1M542 684.5h2M544 685.5h1M545 686.5h1M546 687.5h2M548 688.5h1M549 689.5h2M551 690.5h2M553 691.5h2M555 692.5h2M557 693.5h6M563 694.5h1M564 693.5h2M566 692.5h2M568 691.5h1M569 690.5h1M570 689.5h1M571 688.5h2M573 687.5h1M574.5 685v2M575 684.5h1M576 683.5h1M577 682.5h1M578 681.5h1M579 680.5h1M580 679.5h1M581 678.5h1M582 677.5h1M583.5 675v2M584 674.5h1M585 673.5h1M586 672.5h1M587 671.5h1M588 670.5h1M589 669.5h1M590 668.5h1M591 667.5h1M592 666.5h1M593 665.5h1M594 664.5h1M595 663.5h2M597 662.5h1M598 661.5h2M600 660.5h3M603 659.5h2M605 658.5h3M608 657.5h6M614 658.5h4M618 659.5h4M622 660.5h5M627 661.5h3M630 660.5h5M635 659.5h5M640 658.5h12M652 657.5h3M655 656.5h3M658 655.5h2M660 654.5h2M662 653.5h2M664 652.5h7M671 651.5h5M676 650.5h3M679 649.5h2M681 648.5h3M684 647.5h2M686 646.5h2M688 645.5h2M690 644.5h1M691 643.5h1M692 642.5h2M694 641.5h1M695 640.5h1M696 639.5h1M697 638.5h1M698 637.5h1M699 636.5h1M700 635.5h1M701 634.5h1M702 633.5h1M703.5 631v2M704 630.5h1M705 629.5h1M706 628.5h1M707 627.5h1M708 626.5h1M709 625.5h1M710 624.5h1M711 623.5h1M712 622.5h1M713 621.5h1M714 620.5h1M715 619.5h1M716 618.5h1M717 617.5h1M718 616.5h1M719 615.5h1M720 614.5h1M721 613.5h1M722 612.5h2M724 611.5h1M725 610.5h2M727 609.5h1M728 608.5h3M731 607.5h3M734 606.5h6M740 607.5h5M745 608.5h4M749 609.5h4M753 610.5h2M755 611.5h2M757 612.5h2M759 613.5h2M761 614.5h3M764 615.5h3M767 616.5h3M770 617.5h3M773 618.5h2M775 619.5h2M777 620.5h2M779 621.5h2M781 622.5h2M783 623.5h2M785 624.5h1M786 625.5h2M788 626.5h1M789 627.5h1M790 628.5h1M791 629.5h1M792 630.5h1M793 631.5h2M795 632.5h1M796 633.5h1M797 634.5h3M800 635.5h14M814 634.5h5M819 633.5h4M823 632.5h3M826 631.5h3M829 630.5h3M832 629.5h3M835 628.5h3M838 627.5h5M843 626.5h1M844 627.5h5M849 628.5h2M851 629.5h2M853 630.5h1M854 631.5h1M855 632.5h2M857 633.5h1M858 634.5h1M859 635.5h1M860 636.5h1M861 637.5h1M862 638.5h1M863 639.5h1M864 640.5h1M865 641.5h1M866 642.5h1M867 643.5h1M868 644.5h1M869 645.5h1M870 646.5h1M871 647.5h1M872 648.5h2M874 649.5h1M875 650.5h2M877 651.5h1M878 652.5h4M882 653.5h5M887 652.5h3M890 651.5h3M893 650.5h2M895 649.5h1M896 648.5h1M897 647.5h2M899 646.5h1M900 645.5h2M902 644.5h1M903 643.5h1M904 642.5h1M905 641.5h2M907 640.5h1M908 639.5h1M909 638.5h1M910 637.5h1M911 636.5h1M912 635.5h1M913 634.5h2M915 633.5h1M916 632.5h1M917 631.5h2M919 630.5h2M921 629.5h1M922 628.5h2M924 627.5h2M926 626.5h2M928 625.5h2M930 624.5h3M933 623.5h4M937 622.5h3M940 621.5h2M942 620.5h2M944 619.5h3M947 618.5h2" stroke="#e0e000" stroke-width="1" fill="none" shape-rendering="crispEdges" />
<text x="34" y="718.3" font-size="12.5" fill="#f5b235" stroke="#f5b235" stroke-width="0.5" text-anchor="start" font-family="'Liberation Sans', 'Noto Sans CJK SC', sans-serif">日线</text>
<path d="M64.8 718.3l4.2-8.6 4.2 8.6z" fill="#f5b235"/>
<rect x="89.5" y="704" width="1" height="19" fill="#2b2b2b" shape-rendering="crispEdges"/>
<rect x="173" y="704" width="1" height="4" fill="#3a3a3a" shape-rendering="crispEdges"/>
<text x="174.8" y="716" font-size="12.3" fill="#aab0bc" text-anchor="start" font-weight="bold" font-family="'Liberation Sans', sans-serif" >2020/09</text>
<rect x="283" y="704" width="1" height="4" fill="#3a3a3a" shape-rendering="crispEdges"/>
<text x="284.8" y="716" font-size="12.3" fill="#aab0bc" text-anchor="start" font-weight="bold" font-family="'Liberation Sans', sans-serif" >2020/10</text>
<rect x="393" y="704" width="1" height="4" fill="#3a3a3a" shape-rendering="crispEdges"/>
<text x="394.8" y="716" font-size="12.3" fill="#aab0bc" text-anchor="start" font-weight="bold" font-family="'Liberation Sans', sans-serif" >2020/11</text>
<rect x="498" y="704" width="1" height="4" fill="#3a3a3a" shape-rendering="crispEdges"/>
<text x="499.8" y="716" font-size="12.3" fill="#aab0bc" text-anchor="start" font-weight="bold" font-family="'Liberation Sans', sans-serif" >2020/12</text>
<rect x="608" y="704" width="1" height="4" fill="#3a3a3a" shape-rendering="crispEdges"/>
<text x="609.8" y="716" font-size="12.3" fill="#aab0bc" text-anchor="start" font-weight="bold" font-family="'Liberation Sans', sans-serif" >2021/01</text>
<rect x="708" y="704" width="1" height="4" fill="#3a3a3a" shape-rendering="crispEdges"/>
<text x="709.8" y="716" font-size="12.3" fill="#aab0bc" text-anchor="start" font-weight="bold" font-family="'Liberation Sans', sans-serif" >2021/02</text>
<rect x="808" y="704" width="1" height="4" fill="#3a3a3a" shape-rendering="crispEdges"/>
<text x="809.8" y="716" font-size="12.3" fill="#aab0bc" text-anchor="start" font-weight="bold" font-family="'Liberation Sans', sans-serif" >2021/03</text>
<rect x="923" y="704" width="1" height="4" fill="#3a3a3a" shape-rendering="crispEdges"/>
<text x="924.8" y="716" font-size="12.3" fill="#aab0bc" text-anchor="start" font-weight="bold" font-family="'Liberation Sans', sans-serif" >2021/04</text>
<g shape-rendering="crispEdges">
<rect x="20" y="724" width="604" height="14" fill="#0e0e0e"/>
<rect x="20" y="724" width="39" height="15" fill="#3e404e"/>
<rect x="59" y="724" width="1" height="15" fill="#2e2e2e"/>
<rect x="99" y="724" width="1" height="15" fill="#2e2e2e"/>
<rect x="157" y="724" width="1" height="15" fill="#2e2e2e"/>
<rect x="185" y="724" width="1" height="15" fill="#2e2e2e"/>
<rect x="225" y="724" width="1" height="15" fill="#2e2e2e"/>
<rect x="265" y="724" width="1" height="15" fill="#2e2e2e"/>
<rect x="299" y="724" width="1" height="15" fill="#2e2e2e"/>
<rect x="333" y="724" width="1" height="15" fill="#2e2e2e"/>
<rect x="373" y="724" width="1" height="15" fill="#2e2e2e"/>
<rect x="407" y="724" width="1" height="15" fill="#2e2e2e"/>
<rect x="435" y="724" width="1" height="15" fill="#2e2e2e"/>
<rect x="469" y="724" width="1" height="15" fill="#2e2e2e"/>
<rect x="509" y="724" width="1" height="15" fill="#2e2e2e"/>
<rect x="543" y="724" width="1" height="15" fill="#2e2e2e"/>
<rect x="583" y="724" width="1" height="15" fill="#2e2e2e"/>
<rect x="623" y="724" width="1" height="15" fill="#2e2e2e"/>
</g>
<text x="27.5" y="736" font-size="12" fill="#ffffff" text-anchor="start" font-family="'Liberation Sans', 'Noto Sans CJK SC', sans-serif">指标</text>
<text x="67.5" y="736" font-size="12" fill="#c0c0c0" text-anchor="start" font-family="'Liberation Sans', 'Noto Sans CJK SC', sans-serif">模板</text>
<text x="107.5" y="735.3" font-size="10" fill="#f0b040" text-anchor="start" font-weight="normal" font-family="'Liberation Mono', sans-serif" transform="translate(0,-183.8) scale(1,1.25)">VIP</text>
<text x="125.5" y="736" font-size="12" fill="#f0b040" text-anchor="start" font-family="'Liberation Sans', 'Noto Sans CJK SC', sans-serif">指标</text>
<text x="165.6" y="735.7" font-size="10" fill="#c8c8c8" text-anchor="start" font-weight="normal" font-family="'Liberation Mono', sans-serif" transform="translate(0,-183.8) scale(1,1.25)">MA</text>
<text x="193.6" y="735.7" font-size="10" fill="#c8c8c8" text-anchor="start" font-weight="normal" font-family="'Liberation Mono', sans-serif" transform="translate(0,-183.8) scale(1,1.25)">MACD</text>
<text x="233.6" y="735.7" font-size="10" fill="#c8c8c8" text-anchor="start" font-weight="normal" font-family="'Liberation Mono', sans-serif" transform="translate(0,-183.8) scale(1,1.25)">BIAS</text>
<text x="273.6" y="735.7" font-size="10" fill="#c8c8c8" text-anchor="start" font-weight="normal" font-family="'Liberation Mono', sans-serif" transform="translate(0,-183.8) scale(1,1.25)">CCI</text>
<text x="307.6" y="735.7" font-size="10" fill="#c8c8c8" text-anchor="start" font-weight="normal" font-family="'Liberation Mono', sans-serif" transform="translate(0,-183.8) scale(1,1.25)">KDJ</text>
<text x="341.6" y="735.7" font-size="10" fill="#c8c8c8" text-anchor="start" font-weight="normal" font-family="'Liberation Mono', sans-serif" transform="translate(0,-183.8) scale(1,1.25)">LW&amp;</text>
<text x="381.6" y="735.7" font-size="10" fill="#c8c8c8" text-anchor="start" font-weight="normal" font-family="'Liberation Mono', sans-serif" transform="translate(0,-183.8) scale(1,1.25)">RSI</text>
<text x="415.6" y="735.7" font-size="10" fill="#c8c8c8" text-anchor="start" font-weight="normal" font-family="'Liberation Mono', sans-serif" transform="translate(0,-183.8) scale(1,1.25)">CR</text>
<text x="443.6" y="735.7" font-size="10" fill="#c8c8c8" text-anchor="start" font-weight="normal" font-family="'Liberation Mono', sans-serif" transform="translate(0,-183.8) scale(1,1.25)">PSY</text>
<text x="477.6" y="735.7" font-size="10" fill="#c8c8c8" text-anchor="start" font-weight="normal" font-family="'Liberation Mono', sans-serif" transform="translate(0,-183.8) scale(1,1.25)">BOLL</text>
<text x="517.6" y="735.7" font-size="10" fill="#c8c8c8" text-anchor="start" font-weight="normal" font-family="'Liberation Mono', sans-serif" transform="translate(0,-183.8) scale(1,1.25)">VOL</text>
<text x="551.6" y="735.7" font-size="10" fill="#c8c8c8" text-anchor="start" font-weight="normal" font-family="'Liberation Mono', sans-serif" transform="translate(0,-183.8) scale(1,1.25)">DXFY</text>
<text x="591.5" y="736" font-size="12" fill="#c8c8c8" text-anchor="start" font-family="'Liberation Sans', 'Noto Sans CJK SC', sans-serif">设置</text>
<text x="954.2" y="713.7" font-size="30.3" fill="#e4e6ee" text-anchor="start" font-weight="normal" font-family="'Liberation Sans', sans-serif" letter-spacing="2.05" stroke="#0a0a0a" stroke-width="1.2" paint-order="stroke">FX678</text>
</svg>
</body></html>
